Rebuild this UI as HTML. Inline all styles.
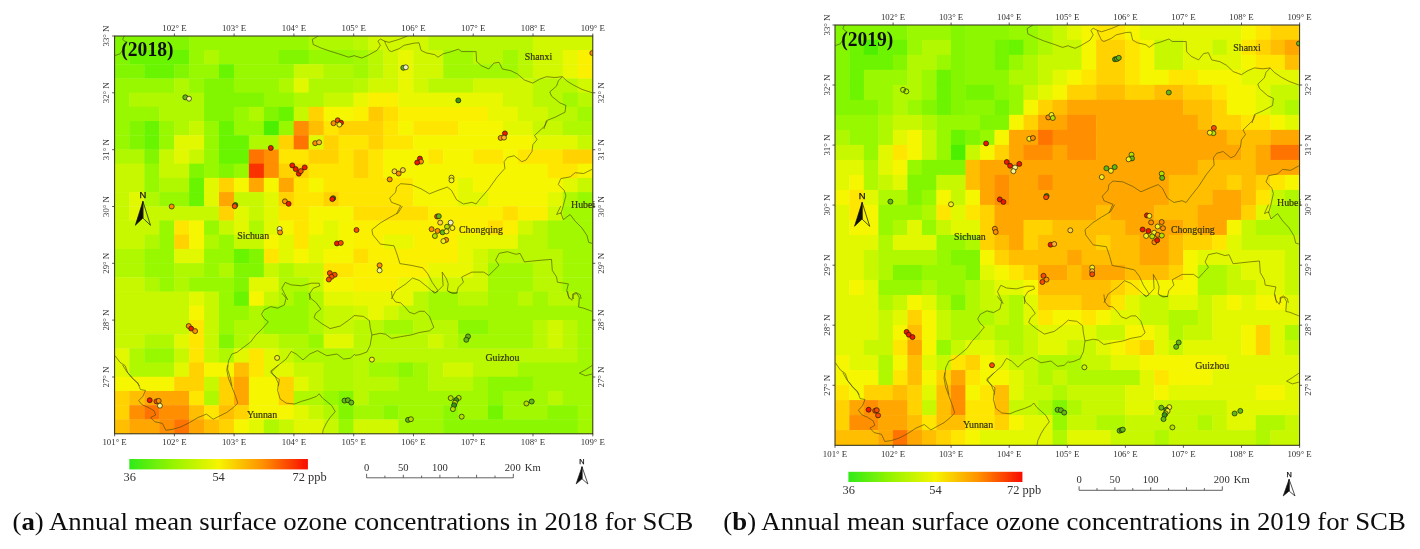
<!DOCTYPE html>
<html><head><meta charset="utf-8"><title>Figure</title><style>html,body{margin:0;padding:0;background:#fff}body{width:1420px;height:549px;overflow:hidden}svg{display:block}</style></head><body>
<svg width="1420" height="549" viewBox="0 0 1420 549" font-family="Liberation Serif, serif">
<defs><filter id="bl" x="-2%" y="-2%" width="104%" height="104%"><feGaussianBlur stdDeviation="0.45"/></filter>
<clipPath id="cl"><rect x="114.6" y="36.0" width="478.2" height="397.8"/></clipPath>
<clipPath id="cr"><rect x="835.0" y="25.0" width="464.6" height="420.3"/></clipPath></defs>
<rect width="1420" height="549" fill="#fff"/>
<g filter="url(#bl)">
<g clip-path="url(#cl)"><rect x="114.40" y="35.80" width="75.12" height="14.61" fill="#82f600"/>
<rect x="189.12" y="35.80" width="119.95" height="14.61" fill="#98f800"/>
<rect x="308.67" y="35.80" width="45.23" height="14.61" fill="#aff800"/>
<rect x="353.50" y="35.80" width="15.34" height="14.61" fill="#b9f800"/>
<rect x="368.44" y="35.80" width="60.17" height="14.61" fill="#d2f800"/>
<rect x="428.22" y="35.80" width="105.01" height="14.61" fill="#b9f800"/>
<rect x="532.82" y="35.80" width="60.17" height="14.61" fill="#d2f800"/>
<rect x="114.40" y="50.01" width="15.34" height="14.61" fill="#82f600"/>
<rect x="129.34" y="50.01" width="60.17" height="14.61" fill="#69f400"/>
<rect x="189.12" y="50.01" width="15.34" height="14.61" fill="#98f800"/>
<rect x="204.06" y="50.01" width="15.34" height="14.61" fill="#aff800"/>
<rect x="219.01" y="50.01" width="60.17" height="14.61" fill="#98f800"/>
<rect x="278.78" y="50.01" width="30.29" height="14.61" fill="#82f600"/>
<rect x="308.67" y="50.01" width="45.23" height="14.61" fill="#98f800"/>
<rect x="353.50" y="50.01" width="15.34" height="14.61" fill="#a1f800"/>
<rect x="368.44" y="50.01" width="15.34" height="14.61" fill="#b9f800"/>
<rect x="383.39" y="50.01" width="15.34" height="14.61" fill="#d2f800"/>
<rect x="398.33" y="50.01" width="15.34" height="14.61" fill="#e9f700"/>
<rect x="413.27" y="50.01" width="30.29" height="14.61" fill="#d2f800"/>
<rect x="443.16" y="50.01" width="30.29" height="14.61" fill="#a1f800"/>
<rect x="473.05" y="50.01" width="30.29" height="14.61" fill="#b9f800"/>
<rect x="502.94" y="50.01" width="15.34" height="14.61" fill="#a1f800"/>
<rect x="517.88" y="50.01" width="15.34" height="14.61" fill="#b9f800"/>
<rect x="532.82" y="50.01" width="30.29" height="14.61" fill="#d2f800"/>
<rect x="562.71" y="50.01" width="15.34" height="14.61" fill="#e9f700"/>
<rect x="577.66" y="50.01" width="15.34" height="14.61" fill="#faf000"/>
<rect x="114.40" y="64.21" width="30.29" height="14.61" fill="#82f600"/>
<rect x="144.29" y="64.21" width="30.29" height="14.61" fill="#69f400"/>
<rect x="174.18" y="64.21" width="15.34" height="14.61" fill="#82f600"/>
<rect x="189.12" y="64.21" width="30.29" height="14.61" fill="#98f800"/>
<rect x="219.01" y="64.21" width="15.34" height="14.61" fill="#69f400"/>
<rect x="233.95" y="64.21" width="60.17" height="14.61" fill="#98f800"/>
<rect x="293.72" y="64.21" width="30.29" height="14.61" fill="#c8f800"/>
<rect x="323.61" y="64.21" width="30.29" height="14.61" fill="#aff800"/>
<rect x="353.50" y="64.21" width="15.34" height="14.61" fill="#a1f800"/>
<rect x="368.44" y="64.21" width="15.34" height="14.61" fill="#b9f800"/>
<rect x="383.39" y="64.21" width="15.34" height="14.61" fill="#d2f800"/>
<rect x="398.33" y="64.21" width="15.34" height="14.61" fill="#e9f700"/>
<rect x="413.27" y="64.21" width="30.29" height="14.61" fill="#d2f800"/>
<rect x="443.16" y="64.21" width="75.12" height="14.61" fill="#a1f800"/>
<rect x="517.88" y="64.21" width="15.34" height="14.61" fill="#b9f800"/>
<rect x="532.82" y="64.21" width="30.29" height="14.61" fill="#d2f800"/>
<rect x="562.71" y="64.21" width="15.34" height="14.61" fill="#e9f700"/>
<rect x="577.66" y="64.21" width="15.34" height="14.61" fill="#faf000"/>
<rect x="114.40" y="78.42" width="60.17" height="14.61" fill="#98f800"/>
<rect x="174.18" y="78.42" width="15.34" height="14.61" fill="#aff800"/>
<rect x="189.12" y="78.42" width="15.34" height="14.61" fill="#98f800"/>
<rect x="204.06" y="78.42" width="30.29" height="14.61" fill="#82f600"/>
<rect x="233.95" y="78.42" width="45.23" height="14.61" fill="#98f800"/>
<rect x="278.78" y="78.42" width="15.34" height="14.61" fill="#aff800"/>
<rect x="293.72" y="78.42" width="15.34" height="14.61" fill="#e1f800"/>
<rect x="308.67" y="78.42" width="45.23" height="14.61" fill="#aff800"/>
<rect x="353.50" y="78.42" width="15.34" height="14.61" fill="#b9f800"/>
<rect x="368.44" y="78.42" width="30.29" height="14.61" fill="#d2f800"/>
<rect x="398.33" y="78.42" width="15.34" height="14.61" fill="#e9f700"/>
<rect x="413.27" y="78.42" width="15.34" height="14.61" fill="#d2f800"/>
<rect x="428.22" y="78.42" width="45.23" height="14.61" fill="#b9f800"/>
<rect x="473.05" y="78.42" width="60.17" height="14.61" fill="#d2f800"/>
<rect x="532.82" y="78.42" width="45.23" height="14.61" fill="#b9f800"/>
<rect x="577.66" y="78.42" width="15.34" height="14.61" fill="#d2f800"/>
<rect x="114.40" y="92.63" width="15.34" height="14.61" fill="#98f800"/>
<rect x="129.34" y="92.63" width="75.12" height="14.61" fill="#aff800"/>
<rect x="204.06" y="92.63" width="60.17" height="14.61" fill="#82f600"/>
<rect x="263.84" y="92.63" width="30.29" height="14.61" fill="#98f800"/>
<rect x="293.72" y="92.63" width="30.29" height="14.61" fill="#aff800"/>
<rect x="323.61" y="92.63" width="30.29" height="14.61" fill="#c8f800"/>
<rect x="353.50" y="92.63" width="15.34" height="14.61" fill="#e9f700"/>
<rect x="368.44" y="92.63" width="30.29" height="14.61" fill="#faf000"/>
<rect x="398.33" y="92.63" width="105.01" height="14.61" fill="#e9f700"/>
<rect x="502.94" y="92.63" width="30.29" height="14.61" fill="#d2f800"/>
<rect x="532.82" y="92.63" width="30.29" height="14.61" fill="#b9f800"/>
<rect x="562.71" y="92.63" width="15.34" height="14.61" fill="#a1f800"/>
<rect x="577.66" y="92.63" width="15.34" height="14.61" fill="#b9f800"/>
<rect x="114.40" y="106.84" width="45.23" height="14.61" fill="#98f800"/>
<rect x="159.23" y="106.84" width="45.23" height="14.61" fill="#aff800"/>
<rect x="204.06" y="106.84" width="30.29" height="14.61" fill="#82f600"/>
<rect x="233.95" y="106.84" width="15.34" height="14.61" fill="#98f800"/>
<rect x="248.89" y="106.84" width="15.34" height="14.61" fill="#aff800"/>
<rect x="263.84" y="106.84" width="15.34" height="14.61" fill="#82f600"/>
<rect x="278.78" y="106.84" width="15.34" height="14.61" fill="#69f400"/>
<rect x="293.72" y="106.84" width="15.34" height="14.61" fill="#c8f800"/>
<rect x="308.67" y="106.84" width="15.34" height="14.61" fill="#ffd200"/>
<rect x="323.61" y="106.84" width="30.29" height="14.61" fill="#f6f600"/>
<rect x="353.50" y="106.84" width="15.34" height="14.61" fill="#faf000"/>
<rect x="368.44" y="106.84" width="15.34" height="14.61" fill="#ffca00"/>
<rect x="383.39" y="106.84" width="15.34" height="14.61" fill="#ffde00"/>
<rect x="398.33" y="106.84" width="90.06" height="14.61" fill="#faf000"/>
<rect x="487.99" y="106.84" width="30.29" height="14.61" fill="#e9f700"/>
<rect x="517.88" y="106.84" width="30.29" height="14.61" fill="#d2f800"/>
<rect x="547.77" y="106.84" width="30.29" height="14.61" fill="#b9f800"/>
<rect x="577.66" y="106.84" width="15.34" height="14.61" fill="#a1f800"/>
<rect x="114.40" y="121.04" width="15.34" height="14.61" fill="#98f800"/>
<rect x="129.34" y="121.04" width="15.34" height="14.61" fill="#82f600"/>
<rect x="144.29" y="121.04" width="15.34" height="14.61" fill="#69f400"/>
<rect x="159.23" y="121.04" width="15.34" height="14.61" fill="#98f800"/>
<rect x="174.18" y="121.04" width="15.34" height="14.61" fill="#aff800"/>
<rect x="189.12" y="121.04" width="15.34" height="14.61" fill="#c8f800"/>
<rect x="204.06" y="121.04" width="15.34" height="14.61" fill="#98f800"/>
<rect x="219.01" y="121.04" width="15.34" height="14.61" fill="#69f400"/>
<rect x="233.95" y="121.04" width="30.29" height="14.61" fill="#98f800"/>
<rect x="263.84" y="121.04" width="15.34" height="14.61" fill="#4bf000"/>
<rect x="278.78" y="121.04" width="15.34" height="14.61" fill="#98f800"/>
<rect x="293.72" y="121.04" width="15.34" height="14.61" fill="#ff8e00"/>
<rect x="308.67" y="121.04" width="15.34" height="14.61" fill="#ffbe00"/>
<rect x="323.61" y="121.04" width="15.34" height="14.61" fill="#ffe600"/>
<rect x="338.56" y="121.04" width="45.23" height="14.61" fill="#ffd200"/>
<rect x="383.39" y="121.04" width="15.34" height="14.61" fill="#ffe600"/>
<rect x="398.33" y="121.04" width="15.34" height="14.61" fill="#f6f600"/>
<rect x="413.27" y="121.04" width="45.23" height="14.61" fill="#ffe600"/>
<rect x="458.11" y="121.04" width="45.23" height="14.61" fill="#f6f600"/>
<rect x="502.94" y="121.04" width="30.29" height="14.61" fill="#e1f800"/>
<rect x="532.82" y="121.04" width="30.29" height="14.61" fill="#c8f800"/>
<rect x="562.71" y="121.04" width="30.29" height="14.61" fill="#aff800"/>
<rect x="114.40" y="135.25" width="15.34" height="14.61" fill="#98f800"/>
<rect x="129.34" y="135.25" width="15.34" height="14.61" fill="#82f600"/>
<rect x="144.29" y="135.25" width="15.34" height="14.61" fill="#69f400"/>
<rect x="159.23" y="135.25" width="15.34" height="14.61" fill="#98f800"/>
<rect x="174.18" y="135.25" width="30.29" height="14.61" fill="#e1f800"/>
<rect x="204.06" y="135.25" width="15.34" height="14.61" fill="#98f800"/>
<rect x="219.01" y="135.25" width="30.29" height="14.61" fill="#69f400"/>
<rect x="248.89" y="135.25" width="30.29" height="14.61" fill="#aff800"/>
<rect x="278.78" y="135.25" width="15.34" height="14.61" fill="#ffd200"/>
<rect x="293.72" y="135.25" width="15.34" height="14.61" fill="#ff7300"/>
<rect x="308.67" y="135.25" width="15.34" height="14.61" fill="#e1f800"/>
<rect x="323.61" y="135.25" width="15.34" height="14.61" fill="#ffd200"/>
<rect x="338.56" y="135.25" width="30.29" height="14.61" fill="#ffe600"/>
<rect x="368.44" y="135.25" width="15.34" height="14.61" fill="#ffd200"/>
<rect x="383.39" y="135.25" width="30.29" height="14.61" fill="#ffe600"/>
<rect x="413.27" y="135.25" width="119.95" height="14.61" fill="#f6f600"/>
<rect x="532.82" y="135.25" width="45.23" height="14.61" fill="#e1f800"/>
<rect x="577.66" y="135.25" width="15.34" height="14.61" fill="#c8f800"/>
<rect x="114.40" y="149.46" width="30.29" height="14.61" fill="#aff800"/>
<rect x="144.29" y="149.46" width="15.34" height="14.61" fill="#82f600"/>
<rect x="159.23" y="149.46" width="15.34" height="14.61" fill="#c8f800"/>
<rect x="174.18" y="149.46" width="15.34" height="14.61" fill="#e1f800"/>
<rect x="189.12" y="149.46" width="15.34" height="14.61" fill="#c8f800"/>
<rect x="204.06" y="149.46" width="15.34" height="14.61" fill="#98f800"/>
<rect x="219.01" y="149.46" width="30.29" height="14.61" fill="#69f400"/>
<rect x="248.89" y="149.46" width="15.34" height="14.61" fill="#ff7300"/>
<rect x="263.84" y="149.46" width="15.34" height="14.61" fill="#ff8e00"/>
<rect x="278.78" y="149.46" width="30.29" height="14.61" fill="#ffe600"/>
<rect x="308.67" y="149.46" width="30.29" height="14.61" fill="#ffd200"/>
<rect x="338.56" y="149.46" width="15.34" height="14.61" fill="#ffe600"/>
<rect x="353.50" y="149.46" width="15.34" height="14.61" fill="#ffd200"/>
<rect x="368.44" y="149.46" width="15.34" height="14.61" fill="#ffe600"/>
<rect x="383.39" y="149.46" width="45.23" height="14.61" fill="#f6f600"/>
<rect x="428.22" y="149.46" width="15.34" height="14.61" fill="#ffe600"/>
<rect x="443.16" y="149.46" width="30.29" height="14.61" fill="#f6f600"/>
<rect x="473.05" y="149.46" width="30.29" height="14.61" fill="#ffe600"/>
<rect x="502.94" y="149.46" width="15.34" height="14.61" fill="#f6f600"/>
<rect x="517.88" y="149.46" width="45.23" height="14.61" fill="#ffe600"/>
<rect x="562.71" y="149.46" width="30.29" height="14.61" fill="#ffd200"/>
<rect x="114.40" y="163.66" width="30.29" height="14.61" fill="#c8f800"/>
<rect x="144.29" y="163.66" width="15.34" height="14.61" fill="#98f800"/>
<rect x="159.23" y="163.66" width="30.29" height="14.61" fill="#c8f800"/>
<rect x="189.12" y="163.66" width="15.34" height="14.61" fill="#82f600"/>
<rect x="204.06" y="163.66" width="15.34" height="14.61" fill="#98f800"/>
<rect x="219.01" y="163.66" width="15.34" height="14.61" fill="#82f600"/>
<rect x="233.95" y="163.66" width="15.34" height="14.61" fill="#98f800"/>
<rect x="248.89" y="163.66" width="15.34" height="14.61" fill="#fa3200"/>
<rect x="263.84" y="163.66" width="15.34" height="14.61" fill="#ff8e00"/>
<rect x="278.78" y="163.66" width="30.29" height="14.61" fill="#ffd200"/>
<rect x="308.67" y="163.66" width="45.23" height="14.61" fill="#ffe600"/>
<rect x="353.50" y="163.66" width="15.34" height="14.61" fill="#ffd200"/>
<rect x="368.44" y="163.66" width="15.34" height="14.61" fill="#ffe600"/>
<rect x="383.39" y="163.66" width="164.78" height="14.61" fill="#f6f600"/>
<rect x="547.77" y="163.66" width="30.29" height="14.61" fill="#ffe600"/>
<rect x="577.66" y="163.66" width="15.34" height="14.61" fill="#f6f600"/>
<rect x="114.40" y="177.87" width="30.29" height="14.61" fill="#c8f800"/>
<rect x="144.29" y="177.87" width="15.34" height="14.61" fill="#98f800"/>
<rect x="159.23" y="177.87" width="30.29" height="14.61" fill="#aff800"/>
<rect x="189.12" y="177.87" width="15.34" height="14.61" fill="#69f400"/>
<rect x="204.06" y="177.87" width="15.34" height="14.61" fill="#e1f800"/>
<rect x="219.01" y="177.87" width="15.34" height="14.61" fill="#ffd200"/>
<rect x="233.95" y="177.87" width="15.34" height="14.61" fill="#f6f600"/>
<rect x="248.89" y="177.87" width="15.34" height="14.61" fill="#ffa700"/>
<rect x="263.84" y="177.87" width="15.34" height="14.61" fill="#f6f600"/>
<rect x="278.78" y="177.87" width="15.34" height="14.61" fill="#ffa700"/>
<rect x="293.72" y="177.87" width="15.34" height="14.61" fill="#ffe600"/>
<rect x="308.67" y="177.87" width="15.34" height="14.61" fill="#f6f600"/>
<rect x="323.61" y="177.87" width="90.06" height="14.61" fill="#ffe600"/>
<rect x="413.27" y="177.87" width="45.23" height="14.61" fill="#f6f600"/>
<rect x="458.11" y="177.87" width="15.34" height="14.61" fill="#e1f800"/>
<rect x="473.05" y="177.87" width="90.06" height="14.61" fill="#f6f600"/>
<rect x="562.71" y="177.87" width="15.34" height="14.61" fill="#e1f800"/>
<rect x="577.66" y="177.87" width="15.34" height="14.61" fill="#c8f800"/>
<rect x="114.40" y="192.08" width="15.34" height="14.61" fill="#c8f800"/>
<rect x="129.34" y="192.08" width="15.34" height="14.61" fill="#e1f800"/>
<rect x="144.29" y="192.08" width="15.34" height="14.61" fill="#aff800"/>
<rect x="159.23" y="192.08" width="30.29" height="14.61" fill="#98f800"/>
<rect x="189.12" y="192.08" width="15.34" height="14.61" fill="#69f400"/>
<rect x="204.06" y="192.08" width="15.34" height="14.61" fill="#e1f800"/>
<rect x="219.01" y="192.08" width="15.34" height="14.61" fill="#ffa700"/>
<rect x="233.95" y="192.08" width="30.29" height="14.61" fill="#c8f800"/>
<rect x="263.84" y="192.08" width="15.34" height="14.61" fill="#e1f800"/>
<rect x="278.78" y="192.08" width="15.34" height="14.61" fill="#ffd200"/>
<rect x="293.72" y="192.08" width="30.29" height="14.61" fill="#ffe600"/>
<rect x="323.61" y="192.08" width="15.34" height="14.61" fill="#ffd200"/>
<rect x="338.56" y="192.08" width="75.12" height="14.61" fill="#ffe600"/>
<rect x="413.27" y="192.08" width="45.23" height="14.61" fill="#f6f600"/>
<rect x="458.11" y="192.08" width="30.29" height="14.61" fill="#e1f800"/>
<rect x="487.99" y="192.08" width="60.17" height="14.61" fill="#f6f600"/>
<rect x="547.77" y="192.08" width="15.34" height="14.61" fill="#e1f800"/>
<rect x="562.71" y="192.08" width="15.34" height="14.61" fill="#aff800"/>
<rect x="577.66" y="192.08" width="15.34" height="14.61" fill="#98f800"/>
<rect x="114.40" y="206.29" width="15.34" height="14.61" fill="#c8f800"/>
<rect x="129.34" y="206.29" width="15.34" height="14.61" fill="#e1f800"/>
<rect x="144.29" y="206.29" width="75.12" height="14.61" fill="#c8f800"/>
<rect x="219.01" y="206.29" width="15.34" height="14.61" fill="#ffd200"/>
<rect x="233.95" y="206.29" width="15.34" height="14.61" fill="#e1f800"/>
<rect x="248.89" y="206.29" width="15.34" height="14.61" fill="#c8f800"/>
<rect x="263.84" y="206.29" width="15.34" height="14.61" fill="#e1f800"/>
<rect x="278.78" y="206.29" width="30.29" height="14.61" fill="#ffe600"/>
<rect x="308.67" y="206.29" width="45.23" height="14.61" fill="#f6f600"/>
<rect x="353.50" y="206.29" width="75.12" height="14.61" fill="#ffde00"/>
<rect x="428.22" y="206.29" width="75.12" height="14.61" fill="#faf000"/>
<rect x="502.94" y="206.29" width="15.34" height="14.61" fill="#ffde00"/>
<rect x="517.88" y="206.29" width="30.29" height="14.61" fill="#faf000"/>
<rect x="547.77" y="206.29" width="15.34" height="14.61" fill="#d2f800"/>
<rect x="562.71" y="206.29" width="30.29" height="14.61" fill="#a1f800"/>
<rect x="114.40" y="220.49" width="45.23" height="14.61" fill="#c8f800"/>
<rect x="159.23" y="220.49" width="15.34" height="14.61" fill="#98f800"/>
<rect x="174.18" y="220.49" width="15.34" height="14.61" fill="#ffe600"/>
<rect x="189.12" y="220.49" width="15.34" height="14.61" fill="#f6f600"/>
<rect x="204.06" y="220.49" width="15.34" height="14.61" fill="#98f800"/>
<rect x="219.01" y="220.49" width="15.34" height="14.61" fill="#c8f800"/>
<rect x="233.95" y="220.49" width="15.34" height="14.61" fill="#e1f800"/>
<rect x="248.89" y="220.49" width="15.34" height="14.61" fill="#aff800"/>
<rect x="263.84" y="220.49" width="15.34" height="14.61" fill="#e1f800"/>
<rect x="278.78" y="220.49" width="15.34" height="14.61" fill="#f6f600"/>
<rect x="293.72" y="220.49" width="15.34" height="14.61" fill="#ffe600"/>
<rect x="308.67" y="220.49" width="15.34" height="14.61" fill="#f6f600"/>
<rect x="323.61" y="220.49" width="15.34" height="14.61" fill="#e1f800"/>
<rect x="338.56" y="220.49" width="15.34" height="14.61" fill="#f6f600"/>
<rect x="353.50" y="220.49" width="134.89" height="14.61" fill="#faf000"/>
<rect x="487.99" y="220.49" width="15.34" height="14.61" fill="#ffde00"/>
<rect x="502.94" y="220.49" width="15.34" height="14.61" fill="#faf000"/>
<rect x="517.88" y="220.49" width="15.34" height="14.61" fill="#d2f800"/>
<rect x="532.82" y="220.49" width="15.34" height="14.61" fill="#b9f800"/>
<rect x="547.77" y="220.49" width="45.23" height="14.61" fill="#a1f800"/>
<rect x="114.40" y="234.70" width="30.29" height="14.61" fill="#c8f800"/>
<rect x="144.29" y="234.70" width="15.34" height="14.61" fill="#aff800"/>
<rect x="159.23" y="234.70" width="15.34" height="14.61" fill="#98f800"/>
<rect x="174.18" y="234.70" width="15.34" height="14.61" fill="#ffd200"/>
<rect x="189.12" y="234.70" width="15.34" height="14.61" fill="#f6f600"/>
<rect x="204.06" y="234.70" width="15.34" height="14.61" fill="#aff800"/>
<rect x="219.01" y="234.70" width="15.34" height="14.61" fill="#98f800"/>
<rect x="233.95" y="234.70" width="30.29" height="14.61" fill="#c8f800"/>
<rect x="263.84" y="234.70" width="15.34" height="14.61" fill="#f6f600"/>
<rect x="278.78" y="234.70" width="15.34" height="14.61" fill="#e1f800"/>
<rect x="293.72" y="234.70" width="15.34" height="14.61" fill="#ffe600"/>
<rect x="308.67" y="234.70" width="30.29" height="14.61" fill="#e1f800"/>
<rect x="338.56" y="234.70" width="15.34" height="14.61" fill="#f6f600"/>
<rect x="353.50" y="234.70" width="30.29" height="14.61" fill="#faf000"/>
<rect x="383.39" y="234.70" width="30.29" height="14.61" fill="#e9f700"/>
<rect x="413.27" y="234.70" width="45.23" height="14.61" fill="#faf000"/>
<rect x="458.11" y="234.70" width="60.17" height="14.61" fill="#e9f700"/>
<rect x="517.88" y="234.70" width="30.29" height="14.61" fill="#b9f800"/>
<rect x="547.77" y="234.70" width="45.23" height="14.61" fill="#a1f800"/>
<rect x="114.40" y="248.91" width="30.29" height="14.61" fill="#aff800"/>
<rect x="144.29" y="248.91" width="30.29" height="14.61" fill="#98f800"/>
<rect x="174.18" y="248.91" width="30.29" height="14.61" fill="#e1f800"/>
<rect x="204.06" y="248.91" width="30.29" height="14.61" fill="#98f800"/>
<rect x="233.95" y="248.91" width="15.34" height="14.61" fill="#69f400"/>
<rect x="248.89" y="248.91" width="15.34" height="14.61" fill="#82f600"/>
<rect x="263.84" y="248.91" width="15.34" height="14.61" fill="#ffe600"/>
<rect x="278.78" y="248.91" width="15.34" height="14.61" fill="#e1f800"/>
<rect x="293.72" y="248.91" width="15.34" height="14.61" fill="#f6f600"/>
<rect x="308.67" y="248.91" width="15.34" height="14.61" fill="#e1f800"/>
<rect x="323.61" y="248.91" width="30.29" height="14.61" fill="#f6f600"/>
<rect x="353.50" y="248.91" width="15.34" height="14.61" fill="#ffde00"/>
<rect x="368.44" y="248.91" width="90.06" height="14.61" fill="#faf000"/>
<rect x="458.11" y="248.91" width="15.34" height="14.61" fill="#e9f700"/>
<rect x="473.05" y="248.91" width="15.34" height="14.61" fill="#d2f800"/>
<rect x="487.99" y="248.91" width="75.12" height="14.61" fill="#b9f800"/>
<rect x="562.71" y="248.91" width="30.29" height="14.61" fill="#a1f800"/>
<rect x="114.40" y="263.11" width="30.29" height="14.61" fill="#aff800"/>
<rect x="144.29" y="263.11" width="30.29" height="14.61" fill="#98f800"/>
<rect x="174.18" y="263.11" width="30.29" height="14.61" fill="#aff800"/>
<rect x="204.06" y="263.11" width="15.34" height="14.61" fill="#98f800"/>
<rect x="219.01" y="263.11" width="15.34" height="14.61" fill="#aff800"/>
<rect x="233.95" y="263.11" width="30.29" height="14.61" fill="#82f600"/>
<rect x="263.84" y="263.11" width="15.34" height="14.61" fill="#c8f800"/>
<rect x="278.78" y="263.11" width="15.34" height="14.61" fill="#aff800"/>
<rect x="293.72" y="263.11" width="30.29" height="14.61" fill="#c8f800"/>
<rect x="323.61" y="263.11" width="30.29" height="14.61" fill="#ffe600"/>
<rect x="353.50" y="263.11" width="75.12" height="14.61" fill="#faf000"/>
<rect x="428.22" y="263.11" width="45.23" height="14.61" fill="#e9f700"/>
<rect x="473.05" y="263.11" width="15.34" height="14.61" fill="#d2f800"/>
<rect x="487.99" y="263.11" width="45.23" height="14.61" fill="#a1f800"/>
<rect x="532.82" y="263.11" width="30.29" height="14.61" fill="#b9f800"/>
<rect x="562.71" y="263.11" width="30.29" height="14.61" fill="#a1f800"/>
<rect x="114.40" y="277.32" width="30.29" height="14.61" fill="#c8f800"/>
<rect x="144.29" y="277.32" width="15.34" height="14.61" fill="#aff800"/>
<rect x="159.23" y="277.32" width="15.34" height="14.61" fill="#98f800"/>
<rect x="174.18" y="277.32" width="15.34" height="14.61" fill="#aff800"/>
<rect x="189.12" y="277.32" width="45.23" height="14.61" fill="#98f800"/>
<rect x="233.95" y="277.32" width="15.34" height="14.61" fill="#82f600"/>
<rect x="248.89" y="277.32" width="30.29" height="14.61" fill="#e1f800"/>
<rect x="278.78" y="277.32" width="30.29" height="14.61" fill="#aff800"/>
<rect x="308.67" y="277.32" width="15.34" height="14.61" fill="#c8f800"/>
<rect x="323.61" y="277.32" width="30.29" height="14.61" fill="#f6f600"/>
<rect x="353.50" y="277.32" width="45.23" height="14.61" fill="#faf000"/>
<rect x="398.33" y="277.32" width="30.29" height="14.61" fill="#e9f700"/>
<rect x="428.22" y="277.32" width="60.17" height="14.61" fill="#d2f800"/>
<rect x="487.99" y="277.32" width="45.23" height="14.61" fill="#a1f800"/>
<rect x="532.82" y="277.32" width="30.29" height="14.61" fill="#b9f800"/>
<rect x="562.71" y="277.32" width="30.29" height="14.61" fill="#a1f800"/>
<rect x="114.40" y="291.53" width="75.12" height="14.61" fill="#c8f800"/>
<rect x="189.12" y="291.53" width="15.34" height="14.61" fill="#e1f800"/>
<rect x="204.06" y="291.53" width="15.34" height="14.61" fill="#c8f800"/>
<rect x="219.01" y="291.53" width="15.34" height="14.61" fill="#98f800"/>
<rect x="233.95" y="291.53" width="15.34" height="14.61" fill="#69f400"/>
<rect x="248.89" y="291.53" width="15.34" height="14.61" fill="#f6f600"/>
<rect x="263.84" y="291.53" width="15.34" height="14.61" fill="#c8f800"/>
<rect x="278.78" y="291.53" width="15.34" height="14.61" fill="#aff800"/>
<rect x="293.72" y="291.53" width="15.34" height="14.61" fill="#98f800"/>
<rect x="308.67" y="291.53" width="15.34" height="14.61" fill="#aff800"/>
<rect x="323.61" y="291.53" width="30.29" height="14.61" fill="#e1f800"/>
<rect x="353.50" y="291.53" width="60.17" height="14.61" fill="#e9f700"/>
<rect x="413.27" y="291.53" width="15.34" height="14.61" fill="#b9f800"/>
<rect x="428.22" y="291.53" width="30.29" height="14.61" fill="#a1f800"/>
<rect x="458.11" y="291.53" width="30.29" height="14.61" fill="#b9f800"/>
<rect x="487.99" y="291.53" width="30.29" height="14.61" fill="#a1f800"/>
<rect x="517.88" y="291.53" width="15.34" height="14.61" fill="#b9f800"/>
<rect x="532.82" y="291.53" width="15.34" height="14.61" fill="#a1f800"/>
<rect x="547.77" y="291.53" width="30.29" height="14.61" fill="#b9f800"/>
<rect x="577.66" y="291.53" width="15.34" height="14.61" fill="#a1f800"/>
<rect x="114.40" y="305.74" width="75.12" height="14.61" fill="#c8f800"/>
<rect x="189.12" y="305.74" width="15.34" height="14.61" fill="#f6f600"/>
<rect x="204.06" y="305.74" width="15.34" height="14.61" fill="#c8f800"/>
<rect x="219.01" y="305.74" width="30.29" height="14.61" fill="#98f800"/>
<rect x="248.89" y="305.74" width="15.34" height="14.61" fill="#aff800"/>
<rect x="263.84" y="305.74" width="45.23" height="14.61" fill="#98f800"/>
<rect x="308.67" y="305.74" width="15.34" height="14.61" fill="#aff800"/>
<rect x="323.61" y="305.74" width="30.29" height="14.61" fill="#c8f800"/>
<rect x="353.50" y="305.74" width="15.34" height="14.61" fill="#d2f800"/>
<rect x="368.44" y="305.74" width="15.34" height="14.61" fill="#e9f700"/>
<rect x="383.39" y="305.74" width="15.34" height="14.61" fill="#d2f800"/>
<rect x="398.33" y="305.74" width="30.29" height="14.61" fill="#b9f800"/>
<rect x="428.22" y="305.74" width="164.78" height="14.61" fill="#a1f800"/>
<rect x="114.40" y="319.94" width="75.12" height="14.61" fill="#c8f800"/>
<rect x="189.12" y="319.94" width="15.34" height="14.61" fill="#ffe600"/>
<rect x="204.06" y="319.94" width="15.34" height="14.61" fill="#c8f800"/>
<rect x="219.01" y="319.94" width="15.34" height="14.61" fill="#98f800"/>
<rect x="233.95" y="319.94" width="30.29" height="14.61" fill="#aff800"/>
<rect x="263.84" y="319.94" width="45.23" height="14.61" fill="#98f800"/>
<rect x="308.67" y="319.94" width="15.34" height="14.61" fill="#aff800"/>
<rect x="323.61" y="319.94" width="30.29" height="14.61" fill="#c8f800"/>
<rect x="353.50" y="319.94" width="30.29" height="14.61" fill="#b9f800"/>
<rect x="383.39" y="319.94" width="30.29" height="14.61" fill="#a1f800"/>
<rect x="413.27" y="319.94" width="45.23" height="14.61" fill="#b9f800"/>
<rect x="458.11" y="319.94" width="30.29" height="14.61" fill="#8bf700"/>
<rect x="487.99" y="319.94" width="45.23" height="14.61" fill="#a1f800"/>
<rect x="532.82" y="319.94" width="15.34" height="14.61" fill="#b9f800"/>
<rect x="547.77" y="319.94" width="15.34" height="14.61" fill="#d2f800"/>
<rect x="562.71" y="319.94" width="15.34" height="14.61" fill="#b9f800"/>
<rect x="577.66" y="319.94" width="15.34" height="14.61" fill="#a1f800"/>
<rect x="114.40" y="334.15" width="30.29" height="14.61" fill="#c8f800"/>
<rect x="144.29" y="334.15" width="30.29" height="14.61" fill="#aff800"/>
<rect x="174.18" y="334.15" width="15.34" height="14.61" fill="#e1f800"/>
<rect x="189.12" y="334.15" width="15.34" height="14.61" fill="#ffe600"/>
<rect x="204.06" y="334.15" width="15.34" height="14.61" fill="#c8f800"/>
<rect x="219.01" y="334.15" width="15.34" height="14.61" fill="#82f600"/>
<rect x="233.95" y="334.15" width="15.34" height="14.61" fill="#aff800"/>
<rect x="248.89" y="334.15" width="30.29" height="14.61" fill="#c8f800"/>
<rect x="278.78" y="334.15" width="30.29" height="14.61" fill="#aff800"/>
<rect x="308.67" y="334.15" width="15.34" height="14.61" fill="#98f800"/>
<rect x="323.61" y="334.15" width="30.29" height="14.61" fill="#e1f800"/>
<rect x="353.50" y="334.15" width="75.12" height="14.61" fill="#b9f800"/>
<rect x="428.22" y="334.15" width="15.34" height="14.61" fill="#d2f800"/>
<rect x="443.16" y="334.15" width="15.34" height="14.61" fill="#b9f800"/>
<rect x="458.11" y="334.15" width="75.12" height="14.61" fill="#a1f800"/>
<rect x="532.82" y="334.15" width="15.34" height="14.61" fill="#b9f800"/>
<rect x="547.77" y="334.15" width="15.34" height="14.61" fill="#d2f800"/>
<rect x="562.71" y="334.15" width="15.34" height="14.61" fill="#b9f800"/>
<rect x="577.66" y="334.15" width="15.34" height="14.61" fill="#a1f800"/>
<rect x="114.40" y="348.36" width="15.34" height="14.61" fill="#e1f800"/>
<rect x="129.34" y="348.36" width="15.34" height="14.61" fill="#aff800"/>
<rect x="144.29" y="348.36" width="30.29" height="14.61" fill="#98f800"/>
<rect x="174.18" y="348.36" width="15.34" height="14.61" fill="#c8f800"/>
<rect x="189.12" y="348.36" width="15.34" height="14.61" fill="#ffe600"/>
<rect x="204.06" y="348.36" width="15.34" height="14.61" fill="#c8f800"/>
<rect x="219.01" y="348.36" width="15.34" height="14.61" fill="#aff800"/>
<rect x="233.95" y="348.36" width="15.34" height="14.61" fill="#e1f800"/>
<rect x="248.89" y="348.36" width="15.34" height="14.61" fill="#ffe600"/>
<rect x="263.84" y="348.36" width="15.34" height="14.61" fill="#e1f800"/>
<rect x="278.78" y="348.36" width="15.34" height="14.61" fill="#c8f800"/>
<rect x="293.72" y="348.36" width="60.17" height="14.61" fill="#aff800"/>
<rect x="353.50" y="348.36" width="224.56" height="14.61" fill="#b9f800"/>
<rect x="577.66" y="348.36" width="15.34" height="14.61" fill="#a1f800"/>
<rect x="114.40" y="362.56" width="15.34" height="14.61" fill="#e1f800"/>
<rect x="129.34" y="362.56" width="45.23" height="14.61" fill="#aff800"/>
<rect x="174.18" y="362.56" width="15.34" height="14.61" fill="#e1f800"/>
<rect x="189.12" y="362.56" width="15.34" height="14.61" fill="#ffd200"/>
<rect x="204.06" y="362.56" width="30.29" height="14.61" fill="#f6f600"/>
<rect x="233.95" y="362.56" width="15.34" height="14.61" fill="#ffbe00"/>
<rect x="248.89" y="362.56" width="15.34" height="14.61" fill="#ffe600"/>
<rect x="263.84" y="362.56" width="30.29" height="14.61" fill="#e1f800"/>
<rect x="293.72" y="362.56" width="30.29" height="14.61" fill="#c8f800"/>
<rect x="323.61" y="362.56" width="30.29" height="14.61" fill="#aff800"/>
<rect x="353.50" y="362.56" width="15.34" height="14.61" fill="#b9f800"/>
<rect x="368.44" y="362.56" width="30.29" height="14.61" fill="#a1f800"/>
<rect x="398.33" y="362.56" width="15.34" height="14.61" fill="#8bf700"/>
<rect x="413.27" y="362.56" width="15.34" height="14.61" fill="#a1f800"/>
<rect x="428.22" y="362.56" width="15.34" height="14.61" fill="#b9f800"/>
<rect x="443.16" y="362.56" width="30.29" height="14.61" fill="#d2f800"/>
<rect x="473.05" y="362.56" width="45.23" height="14.61" fill="#b9f800"/>
<rect x="517.88" y="362.56" width="75.12" height="14.61" fill="#a1f800"/>
<rect x="114.40" y="376.77" width="60.17" height="14.61" fill="#f6f600"/>
<rect x="174.18" y="376.77" width="30.29" height="14.61" fill="#ffd200"/>
<rect x="204.06" y="376.77" width="15.34" height="14.61" fill="#c8f800"/>
<rect x="219.01" y="376.77" width="15.34" height="14.61" fill="#ffd200"/>
<rect x="233.95" y="376.77" width="15.34" height="14.61" fill="#ffa700"/>
<rect x="248.89" y="376.77" width="30.29" height="14.61" fill="#f6f600"/>
<rect x="278.78" y="376.77" width="15.34" height="14.61" fill="#ffd200"/>
<rect x="293.72" y="376.77" width="15.34" height="14.61" fill="#e1f800"/>
<rect x="308.67" y="376.77" width="15.34" height="14.61" fill="#c8f800"/>
<rect x="323.61" y="376.77" width="30.29" height="14.61" fill="#aff800"/>
<rect x="353.50" y="376.77" width="45.23" height="14.61" fill="#b9f800"/>
<rect x="398.33" y="376.77" width="30.29" height="14.61" fill="#a1f800"/>
<rect x="428.22" y="376.77" width="45.23" height="14.61" fill="#b9f800"/>
<rect x="473.05" y="376.77" width="15.34" height="14.61" fill="#a1f800"/>
<rect x="487.99" y="376.77" width="45.23" height="14.61" fill="#8bf700"/>
<rect x="532.82" y="376.77" width="60.17" height="14.61" fill="#a1f800"/>
<rect x="114.40" y="390.98" width="15.34" height="14.61" fill="#ffd200"/>
<rect x="129.34" y="390.98" width="15.34" height="14.61" fill="#ffbe00"/>
<rect x="144.29" y="390.98" width="45.23" height="14.61" fill="#ffa700"/>
<rect x="189.12" y="390.98" width="15.34" height="14.61" fill="#ffe600"/>
<rect x="204.06" y="390.98" width="15.34" height="14.61" fill="#aff800"/>
<rect x="219.01" y="390.98" width="15.34" height="14.61" fill="#ffd200"/>
<rect x="233.95" y="390.98" width="15.34" height="14.61" fill="#ffa700"/>
<rect x="248.89" y="390.98" width="30.29" height="14.61" fill="#f6f600"/>
<rect x="278.78" y="390.98" width="15.34" height="14.61" fill="#ffd200"/>
<rect x="293.72" y="390.98" width="30.29" height="14.61" fill="#aff800"/>
<rect x="323.61" y="390.98" width="15.34" height="14.61" fill="#98f800"/>
<rect x="338.56" y="390.98" width="15.34" height="14.61" fill="#82f600"/>
<rect x="353.50" y="390.98" width="15.34" height="14.61" fill="#b9f800"/>
<rect x="368.44" y="390.98" width="119.95" height="14.61" fill="#a1f800"/>
<rect x="487.99" y="390.98" width="15.34" height="14.61" fill="#8bf700"/>
<rect x="502.94" y="390.98" width="45.23" height="14.61" fill="#a1f800"/>
<rect x="547.77" y="390.98" width="15.34" height="14.61" fill="#b9f800"/>
<rect x="562.71" y="390.98" width="30.29" height="14.61" fill="#a1f800"/>
<rect x="114.40" y="405.19" width="15.34" height="14.61" fill="#ffd200"/>
<rect x="129.34" y="405.19" width="15.34" height="14.61" fill="#ff8e00"/>
<rect x="144.29" y="405.19" width="15.34" height="14.61" fill="#ff7300"/>
<rect x="159.23" y="405.19" width="30.29" height="14.61" fill="#ff8e00"/>
<rect x="189.12" y="405.19" width="15.34" height="14.61" fill="#ffbe00"/>
<rect x="204.06" y="405.19" width="15.34" height="14.61" fill="#ffe600"/>
<rect x="219.01" y="405.19" width="15.34" height="14.61" fill="#ffbe00"/>
<rect x="233.95" y="405.19" width="15.34" height="14.61" fill="#ffd200"/>
<rect x="248.89" y="405.19" width="45.23" height="14.61" fill="#f6f600"/>
<rect x="293.72" y="405.19" width="15.34" height="14.61" fill="#e1f800"/>
<rect x="308.67" y="405.19" width="15.34" height="14.61" fill="#c8f800"/>
<rect x="323.61" y="405.19" width="15.34" height="14.61" fill="#aff800"/>
<rect x="338.56" y="405.19" width="15.34" height="14.61" fill="#82f600"/>
<rect x="353.50" y="405.19" width="30.29" height="14.61" fill="#a1f800"/>
<rect x="383.39" y="405.19" width="15.34" height="14.61" fill="#8bf700"/>
<rect x="398.33" y="405.19" width="45.23" height="14.61" fill="#a1f800"/>
<rect x="443.16" y="405.19" width="15.34" height="14.61" fill="#8bf700"/>
<rect x="458.11" y="405.19" width="30.29" height="14.61" fill="#a1f800"/>
<rect x="487.99" y="405.19" width="15.34" height="14.61" fill="#73f500"/>
<rect x="502.94" y="405.19" width="45.23" height="14.61" fill="#a1f800"/>
<rect x="547.77" y="405.19" width="30.29" height="14.61" fill="#8bf700"/>
<rect x="577.66" y="405.19" width="15.34" height="14.61" fill="#a1f800"/>
<rect x="114.40" y="419.39" width="15.34" height="14.61" fill="#ffbe00"/>
<rect x="129.34" y="419.39" width="30.29" height="14.61" fill="#ffa700"/>
<rect x="159.23" y="419.39" width="15.34" height="14.61" fill="#ff8e00"/>
<rect x="174.18" y="419.39" width="15.34" height="14.61" fill="#ff7300"/>
<rect x="189.12" y="419.39" width="15.34" height="14.61" fill="#ffa700"/>
<rect x="204.06" y="419.39" width="15.34" height="14.61" fill="#ffbe00"/>
<rect x="219.01" y="419.39" width="15.34" height="14.61" fill="#ffd200"/>
<rect x="233.95" y="419.39" width="15.34" height="14.61" fill="#f6f600"/>
<rect x="248.89" y="419.39" width="15.34" height="14.61" fill="#e1f800"/>
<rect x="263.84" y="419.39" width="15.34" height="14.61" fill="#aff800"/>
<rect x="278.78" y="419.39" width="15.34" height="14.61" fill="#c8f800"/>
<rect x="293.72" y="419.39" width="30.29" height="14.61" fill="#e1f800"/>
<rect x="323.61" y="419.39" width="15.34" height="14.61" fill="#c8f800"/>
<rect x="338.56" y="419.39" width="15.34" height="14.61" fill="#98f800"/>
<rect x="353.50" y="419.39" width="45.23" height="14.61" fill="#d2f800"/>
<rect x="398.33" y="419.39" width="45.23" height="14.61" fill="#a1f800"/>
<rect x="443.16" y="419.39" width="134.89" height="14.61" fill="#8bf700"/>
<rect x="577.66" y="419.39" width="15.34" height="14.61" fill="#a1f800"/><g fill="none" stroke="#45450c" stroke-opacity="0.8" stroke-width="0.75" stroke-linejoin="round"><path d="M355.0 56.0L361.8 58.0L367.7 55.5L377.0 50.4L380.4 45.3L377.9 41.1L380.4 39.0L384.6 41.1L385.5 43.6L388.9 50.4L391.4 51.6L399.0 48.7L404.1 45.3L414.3 43.1L419.0 42.8L421.1 50.4L426.1 52.9L434.6 54.6L438.0 57.2L443.1 53.8L449.9 52.1L458.3 49.2L461.7 51.6L476.1 51.6L476.6 61.4L481.2 65.6L488.8 69.0L493.9 63.1L499.0 62.3L502.4 69.0L510.8 70.7L517.6 74.1L524.4 80.0L532.8 83.1L539.6 79.2L546.4 76.7L554.9 77.5L562.5 76.7L566.7 80.9L573.5 85.1L582.0 89.4L592.1 92.7"/><path d="M384.6 41.1L388.9 42.4L399.0 39.4L407.5 36.0"/><path d="M562.5 76.7L558.3 80.9L556.6 86.0L549.8 91.9L551.5 96.1L559.9 102.9L565.9 105.4L565.0 112.2L554.9 117.3L546.4 120.7L543.9 129.0"/><path d="M547.2 121.0L544.7 126.1L534.5 135.4L537.1 139.6L532.8 144.7L532.0 151.5L526.1 160.0L521.8 161.7L514.2 155.7L507.4 157.4L504.1 161.7L504.9 168.4L497.3 176.9L488.8 188.8L478.6 200.6L476.1 204.0L471.9 202.3L463.4 204.0L456.6 199.8L451.5 190.4L447.3 187.1L438.0 190.4L429.5 193.8L421.1 188.8L410.9 184.5L400.7 183.7L396.5 187.1L395.7 192.1L389.7 198.1L391.4 202.3L400.7 205.7L396.5 214.0"/><path d="M592.1 169.3L583.7 173.5L575.2 172.7L570.1 176.9L560.8 178.6L558.3 184.5L564.2 190.4L565.9 195.5L563.3 205.7L560.8 214.0"/><path d="M402.4 206.0L398.2 212.8L388.9 217.9L380.4 222.9L371.9 229.7L372.8 234.8L380.4 244.1L394.0 245.8L397.3 255.1L399.9 263.6L410.9 265.3L422.8 267.8L427.8 273.8L432.1 282.2L438.0 290.7L434.6 293.2L427.8 287.3L419.4 280.5L412.6 278.0L405.8 283.9L395.7 290.7L391.4 299.0"/><path d="M438.0 290.7L443.1 285.6L442.2 272.1L446.5 278.8L448.2 283.9L447.3 290.7L449.9 292.4L456.6 293.2L458.3 287.3L463.4 282.2L461.7 277.1L471.9 272.1L483.7 272.1L488.8 275.4L493.9 270.4L499.0 265.3L495.6 260.2L499.0 253.4L507.4 251.7L515.9 254.3L520.1 253.4L524.4 261.9L532.8 261.0L541.3 260.2L551.5 259.4L552.3 270.4L556.6 277.1L557.4 282.2L568.4 283.9L566.7 290.7L569.3 299.0"/><path d="M560.8 206.0L556.6 214.5L560.8 212.8L563.3 219.6L570.1 214.5L575.2 221.2L582.0 228.0L587.0 235.6L588.7 242.4L592.1 243.3"/><path d="M573.5 299.0L572.6 294.1L576.0 292.4L580.3 294.9L581.1 299.0"/><path d="M355.0 315.6L363.5 316.4L369.4 320.6L370.2 327.4L371.9 335.0L370.2 345.2L366.9 352.0L360.1 354.5L355.0 355.4"/><path d="M391.4 291.0L392.3 297.8L395.7 302.0L400.7 302.9L405.8 307.9L409.2 312.2L414.3 313.9L419.4 311.3L424.4 311.3L429.5 316.4L432.1 323.2L433.8 327.4L429.5 330.8L419.4 332.5L410.9 335.0L400.7 336.7L391.4 338.4L385.5 334.2L380.4 333.3L371.9 335.0"/><path d="M432.1 291.0L435.5 292.7L438.0 291.0"/><path d="M448.2 291.0L452.4 293.5L457.5 292.7"/><path d="M567.6 291.0L568.4 296.1L571.8 300.3L573.5 294.4L576.9 293.5L579.4 297.8L578.6 307.1L582.8 307.9L592.1 311.3"/><path d="M592.1 365.5L585.4 369.8L579.4 373.1L585.4 375.7L592.1 374.0"/><path d="M124.3 36.0L122.6 39.4L126.9 42.8L123.5 48.7L120.1 53.8L115.0 55.5"/><path d="M318.3 36.0L312.3 39.4L313.2 44.5L320.8 47.9L330.1 51.2L338.6 53.8L348.7 57.2L355.0 55.5"/><path d="M309.8 300.0L309.8 293.4L313.2 288.3L319.9 285.8L319.1 283.2L311.5 283.2L301.3 285.8L291.2 284.9L285.2 282.4L281.8 288.3L284.4 293.4L287.8 300.0"/><path d="M281.8 293.0L286.1 298.1L284.4 304.9L277.6 308.2L270.8 306.6L264.1 309.9L261.5 314.2L264.1 318.4L268.3 321.8L262.4 328.6L255.6 335.3L250.5 342.1L243.7 347.2L237.0 352.3L231.9 354.0L228.5 360.8L227.6 369.2L230.2 377.7L231.9 386.0"/><path d="M308.9 293.0L310.6 298.1L316.6 303.2L320.8 309.1L315.7 313.3L314.0 317.6L321.6 323.5L330.1 328.6L340.3 326.0L348.7 320.1L355.0 315.0"/><path d="M355.0 354.0L350.4 358.2L343.7 359.1L336.9 354.0L326.7 355.7L317.4 350.6L309.8 354.0L303.0 359.9L296.2 354.0L291.2 351.4L286.1 359.1L277.6 365.8L270.8 370.9L274.2 376.0L279.3 379.4L278.4 386.0"/><path d="M115.0 355.7L120.1 362.4L125.2 365.8L127.7 372.6L131.9 377.7L137.0 382.8L139.6 386.0"/><path d="M122.6 365.0L126.9 371.8L133.6 379.4L137.9 382.8L140.4 389.6L145.5 390.4L142.9 396.3L138.7 400.6L142.1 404.8L148.0 407.3L154.0 410.7L155.7 415.0L150.6 417.5L154.8 421.7L162.4 423.4L165.8 430.2L172.6 429.4L181.1 426.8L189.5 422.6L198.0 417.5L206.5 414.1L213.2 419.2L220.0 415.8L226.8 412.4L233.6 407.3L237.8 403.1L235.3 395.5L231.9 387.0L228.5 378.6L226.8 370.1L227.6 365.0"/><path d="M278.4 365.0L270.8 372.6L275.1 376.0L278.4 383.6L277.6 390.4L280.1 398.9L286.1 403.1L294.5 404.0L301.3 401.4L309.8 398.9L316.6 396.3L319.1 393.8L322.5 398.0L326.7 401.4L331.8 405.7L335.2 411.6L330.1 417.5L326.7 422.6L323.3 429.4L322.5 433.8"/></g><g stroke="#1a1a06" stroke-width="0.75" stroke-opacity="0.9"><circle cx="185.3" cy="97.3" r="2.5" fill="#5fb818"/><circle cx="189.0" cy="98.7" r="2.5" fill="#f4f490"/><circle cx="333.5" cy="123.2" r="2.5" fill="#ff8c00"/><circle cx="337.7" cy="120.3" r="2.5" fill="#fa4a00"/><circle cx="341.0" cy="122.7" r="2.5" fill="#f01800"/><circle cx="339.4" cy="124.6" r="2.5" fill="#f6f020"/><circle cx="270.8" cy="147.9" r="2.5" fill="#f01800"/><circle cx="315.2" cy="143.2" r="2.5" fill="#ff8c00"/><circle cx="319.1" cy="142.3" r="2.5" fill="#ffb030"/><circle cx="292.3" cy="165.4" r="2.5" fill="#f01800"/><circle cx="295.7" cy="169.1" r="2.5" fill="#f01800"/><circle cx="298.8" cy="173.7" r="2.5" fill="#f01800"/><circle cx="300.8" cy="171.1" r="2.5" fill="#fa4a00"/><circle cx="304.7" cy="167.4" r="2.5" fill="#f01800"/><circle cx="171.7" cy="206.5" r="2.5" fill="#ff8c00"/><circle cx="235.3" cy="205.0" r="2.5" fill="#3a9618"/><circle cx="234.7" cy="206.2" r="2.5" fill="#fa4a00"/><circle cx="284.9" cy="201.3" r="2.5" fill="#ff8c00"/><circle cx="288.6" cy="203.8" r="2.5" fill="#f01800"/><circle cx="333.2" cy="198.2" r="2.5" fill="#3a9618"/><circle cx="332.3" cy="199.1" r="2.5" fill="#f01800"/><circle cx="279.6" cy="229.0" r="2.5" fill="#f0f0c8"/><circle cx="280.1" cy="232.4" r="2.5" fill="#ff8c00"/><circle cx="336.9" cy="243.4" r="2.5" fill="#f01800"/><circle cx="340.8" cy="242.9" r="2.5" fill="#fa4a00"/><circle cx="356.5" cy="230.0" r="2.5" fill="#fa4a00"/><circle cx="329.8" cy="273.1" r="2.5" fill="#fa4a00"/><circle cx="334.7" cy="274.8" r="2.5" fill="#fa4a00"/><circle cx="331.5" cy="276.8" r="2.5" fill="#fa4a00"/><circle cx="328.8" cy="279.5" r="2.5" fill="#fa4a00"/><circle cx="188.7" cy="326.0" r="2.5" fill="#ff8c00"/><circle cx="191.2" cy="328.6" r="2.5" fill="#f01800"/><circle cx="195.1" cy="331.1" r="2.5" fill="#ff8c00"/><circle cx="277.1" cy="357.9" r="2.5" fill="#f6f020"/><circle cx="149.7" cy="400.2" r="2.5" fill="#f01800"/><circle cx="156.5" cy="401.4" r="2.5" fill="#fa4a00"/><circle cx="158.7" cy="400.9" r="2.5" fill="#ff8c00"/><circle cx="159.9" cy="405.7" r="2.5" fill="#f4f490"/><circle cx="344.5" cy="400.6" r="2.5" fill="#5fb818"/><circle cx="347.9" cy="400.2" r="2.5" fill="#5fb818"/><circle cx="351.3" cy="402.6" r="2.5" fill="#5fb818"/><circle cx="403.3" cy="67.8" r="2.5" fill="#5fb818"/><circle cx="405.8" cy="67.3" r="2.5" fill="#f0f0c8"/><circle cx="458.3" cy="100.4" r="2.5" fill="#3a9618"/><circle cx="592.3" cy="53.0" r="2.5" fill="#ff8c00"/><circle cx="504.9" cy="133.4" r="2.5" fill="#f01800"/><circle cx="500.7" cy="137.9" r="2.5" fill="#ff8c00"/><circle cx="504.0" cy="137.6" r="2.5" fill="#ffb030"/><circle cx="419.9" cy="158.6" r="2.5" fill="#f01800"/><circle cx="421.0" cy="161.6" r="2.5" fill="#ff8c00"/><circle cx="417.2" cy="162.5" r="2.5" fill="#f01800"/><circle cx="394.5" cy="171.3" r="2.5" fill="#ffd040"/><circle cx="398.7" cy="173.5" r="2.5" fill="#ff8c00"/><circle cx="402.9" cy="170.1" r="2.5" fill="#ffd040"/><circle cx="389.7" cy="179.4" r="2.5" fill="#ff8c00"/><circle cx="451.5" cy="177.7" r="2.5" fill="#f6f020"/><circle cx="451.5" cy="180.3" r="2.5" fill="#f6f020"/><circle cx="437.1" cy="216.5" r="2.5" fill="#fa4a00"/><circle cx="438.8" cy="216.2" r="2.5" fill="#5fb818"/><circle cx="440.2" cy="222.6" r="2.5" fill="#ffd040"/><circle cx="450.7" cy="222.6" r="2.5" fill="#f0f0c8"/><circle cx="447.0" cy="226.7" r="2.5" fill="#b4e000"/><circle cx="452.4" cy="228.0" r="2.5" fill="#f6f020"/><circle cx="431.6" cy="229.2" r="2.5" fill="#ff8c00"/><circle cx="437.5" cy="230.9" r="2.5" fill="#ff8c00"/><circle cx="442.6" cy="232.3" r="2.5" fill="#5fb818"/><circle cx="446.5" cy="231.4" r="2.5" fill="#f6f020"/><circle cx="434.9" cy="236.0" r="2.5" fill="#b4e000"/><circle cx="446.1" cy="239.9" r="2.5" fill="#ff8c00"/><circle cx="443.4" cy="241.1" r="2.5" fill="#f6f020"/><circle cx="379.6" cy="265.3" r="2.5" fill="#ff8c00"/><circle cx="379.6" cy="270.4" r="2.5" fill="#f4f490"/><circle cx="468.0" cy="336.4" r="2.5" fill="#5fb818"/><circle cx="466.3" cy="339.8" r="2.5" fill="#5fb818"/><circle cx="371.9" cy="359.6" r="2.5" fill="#f6f020"/><circle cx="408.0" cy="419.9" r="2.5" fill="#5fb818"/><circle cx="410.9" cy="419.2" r="2.5" fill="#b4e000"/><circle cx="450.7" cy="398.1" r="2.5" fill="#b4e000"/><circle cx="458.7" cy="397.9" r="2.5" fill="#b4e000"/><circle cx="456.1" cy="400.1" r="2.5" fill="#3a9618"/><circle cx="454.9" cy="402.7" r="2.5" fill="#b4e000"/><circle cx="454.1" cy="405.2" r="2.5" fill="#3a9618"/><circle cx="452.9" cy="409.1" r="2.5" fill="#b4e000"/><circle cx="461.7" cy="416.7" r="2.5" fill="#b4e000"/><circle cx="526.4" cy="403.5" r="2.5" fill="#b4e000"/><circle cx="531.7" cy="401.5" r="2.5" fill="#5fb818"/></g></g>
<rect x="114.6" y="36.0" width="478.2" height="397.8" fill="none" stroke="#2a2a10" stroke-width="1"/>
<g font-size="8.8" fill="#303030" stroke="#303030" stroke-width="0.8"><line x1="114.6" y1="433.8" x2="114.6" y2="436.3"/><text stroke="none" x="114.6" y="445.0" text-anchor="middle">101° E</text><line x1="174.4" y1="433.8" x2="174.4" y2="436.3"/><text stroke="none" x="174.4" y="445.0" text-anchor="middle">102° E</text><line x1="174.4" y1="36.0" x2="174.4" y2="33.5"/><text stroke="none" x="174.4" y="30.9" text-anchor="middle">102° E</text><line x1="234.1" y1="433.8" x2="234.1" y2="436.3"/><text stroke="none" x="234.1" y="445.0" text-anchor="middle">103° E</text><line x1="234.1" y1="36.0" x2="234.1" y2="33.5"/><text stroke="none" x="234.1" y="30.9" text-anchor="middle">103° E</text><line x1="293.9" y1="433.8" x2="293.9" y2="436.3"/><text stroke="none" x="293.9" y="445.0" text-anchor="middle">104° E</text><line x1="293.9" y1="36.0" x2="293.9" y2="33.5"/><text stroke="none" x="293.9" y="30.9" text-anchor="middle">104° E</text><line x1="353.7" y1="433.8" x2="353.7" y2="436.3"/><text stroke="none" x="353.7" y="445.0" text-anchor="middle">105° E</text><line x1="353.7" y1="36.0" x2="353.7" y2="33.5"/><text stroke="none" x="353.7" y="30.9" text-anchor="middle">105° E</text><line x1="413.5" y1="433.8" x2="413.5" y2="436.3"/><text stroke="none" x="413.5" y="445.0" text-anchor="middle">106° E</text><line x1="413.5" y1="36.0" x2="413.5" y2="33.5"/><text stroke="none" x="413.5" y="30.9" text-anchor="middle">106° E</text><line x1="473.2" y1="433.8" x2="473.2" y2="436.3"/><text stroke="none" x="473.2" y="445.0" text-anchor="middle">107° E</text><line x1="473.2" y1="36.0" x2="473.2" y2="33.5"/><text stroke="none" x="473.2" y="30.9" text-anchor="middle">107° E</text><line x1="533.0" y1="433.8" x2="533.0" y2="436.3"/><text stroke="none" x="533.0" y="445.0" text-anchor="middle">108° E</text><line x1="533.0" y1="36.0" x2="533.0" y2="33.5"/><text stroke="none" x="533.0" y="30.9" text-anchor="middle">108° E</text><line x1="592.8" y1="433.8" x2="592.8" y2="436.3"/><text stroke="none" x="592.8" y="445.0" text-anchor="middle">109° E</text><line x1="592.8" y1="36.0" x2="592.8" y2="33.5"/><text stroke="none" x="592.8" y="30.9" text-anchor="middle">109° E</text><line x1="114.6" y1="377.0" x2="112.1" y2="377.0"/><text stroke="none" transform="translate(109.2 377.0) rotate(-90)" text-anchor="middle">27° N</text><line x1="592.8" y1="377.0" x2="595.3" y2="377.0"/><text stroke="none" transform="translate(604.0 377.0) rotate(-90)" text-anchor="middle">27° N</text><line x1="114.6" y1="320.1" x2="112.1" y2="320.1"/><text stroke="none" transform="translate(109.2 320.1) rotate(-90)" text-anchor="middle">28° N</text><line x1="592.8" y1="320.1" x2="595.3" y2="320.1"/><text stroke="none" transform="translate(604.0 320.1) rotate(-90)" text-anchor="middle">28° N</text><line x1="114.6" y1="263.3" x2="112.1" y2="263.3"/><text stroke="none" transform="translate(109.2 263.3) rotate(-90)" text-anchor="middle">29° N</text><line x1="592.8" y1="263.3" x2="595.3" y2="263.3"/><text stroke="none" transform="translate(604.0 263.3) rotate(-90)" text-anchor="middle">29° N</text><line x1="114.6" y1="206.5" x2="112.1" y2="206.5"/><text stroke="none" transform="translate(109.2 206.5) rotate(-90)" text-anchor="middle">30° N</text><line x1="592.8" y1="206.5" x2="595.3" y2="206.5"/><text stroke="none" transform="translate(604.0 206.5) rotate(-90)" text-anchor="middle">30° N</text><line x1="114.6" y1="149.7" x2="112.1" y2="149.7"/><text stroke="none" transform="translate(109.2 149.7) rotate(-90)" text-anchor="middle">31° N</text><line x1="592.8" y1="149.7" x2="595.3" y2="149.7"/><text stroke="none" transform="translate(604.0 149.7) rotate(-90)" text-anchor="middle">31° N</text><line x1="114.6" y1="92.8" x2="112.1" y2="92.8"/><text stroke="none" transform="translate(109.2 92.8) rotate(-90)" text-anchor="middle">32° N</text><line x1="592.8" y1="92.8" x2="595.3" y2="92.8"/><text stroke="none" transform="translate(604.0 92.8) rotate(-90)" text-anchor="middle">32° N</text><line x1="114.6" y1="36.0" x2="112.1" y2="36.0"/><text stroke="none" transform="translate(109.2 36.0) rotate(-90)" text-anchor="middle">33° N</text></g>
<g fill="#33330c" stroke="#33330c" stroke-width="0.2"><text x="237.3" y="238.8" font-size="9.9" text-anchor="start" >Sichuan</text><text x="459.0" y="233.0" font-size="9.9" text-anchor="start" >Chongqing</text><text x="524.8" y="60.3" font-size="9.9" text-anchor="start" >Shanxi</text><text x="485.4" y="360.8" font-size="9.9" text-anchor="start" >Guizhou</text><text x="247.0" y="417.5" font-size="9.9" text-anchor="start" >Yunnan</text><text x="571.0" y="207.5" font-size="9.9" text-anchor="start" >Hubei</text></g>
<text transform="translate(121.3 55.9) scale(0.96 1)" font-size="20.4" font-weight="bold" fill="#111">(2018)</text>
<text x="142.9" y="198.1" font-size="9.4" text-anchor="middle" font-family="Liberation Sans, sans-serif" fill="#101010" stroke="#101010" stroke-width="0.25">N</text><path d="M142.9 201.3L135.3 225.3L142.9 218.1Z" fill="#0a0a0a" stroke="#0a0a0a" stroke-width="0.6"/><path d="M142.9 201.3L150.5 225.3L142.9 218.1Z" fill="none" stroke="#0a0a0a" stroke-width="0.7"/>
<defs><linearGradient id="gl" x1="0" x2="1" y1="0" y2="0"><stop offset="0" stop-color="#30ea18"/><stop offset="0.25" stop-color="#98f400"/><stop offset="0.5" stop-color="#f6f400"/><stop offset="0.75" stop-color="#ff9000"/><stop offset="1" stop-color="#f80c00"/></linearGradient></defs><rect x="129.3" y="459.0" width="178.6" height="10.4" fill="url(#gl)"/><g fill="#303030"><text x="123.5" y="481.0" font-size="12.4" text-anchor="start" >36</text><text x="218.6" y="481.0" font-size="12.4" text-anchor="middle" >54</text><text x="292.6" y="481.0" font-size="12.4" text-anchor="start" >72 ppb</text></g>
<g stroke="#505050" stroke-width="0.9" fill="none"><path d="M366.6 477.8L513.3 477.8"/><path d="M366.6 477.8L366.6 473.8"/><path d="M384.9 477.8L384.9 475.6"/><path d="M403.3 477.8L403.3 474.8"/><path d="M421.6 477.8L421.6 475.6"/><path d="M439.9 477.8L439.9 474.8"/><path d="M458.3 477.8L458.3 475.6"/><path d="M476.6 477.8L476.6 474.8"/><path d="M495.0 477.8L495.0 475.6"/><path d="M513.3 477.8L513.3 473.8"/></g><g font-size="10" fill="#303030"><text x="366.6" y="470.6" font-size="10.6" text-anchor="middle" >0</text><text x="403.3" y="470.6" font-size="10.6" text-anchor="middle" >50</text><text x="439.9" y="470.6" font-size="10.6" text-anchor="middle" >100</text><text x="504.8" y="470.6" font-size="10.6" text-anchor="start" word-spacing="1.5">200 Km</text></g>
<text x="582.0" y="463.9" font-size="7.3" text-anchor="middle" font-family="Liberation Sans, sans-serif" fill="#101010" stroke="#101010" stroke-width="0.25">N</text><path d="M582.0 466.7L576.1 484.0L582.0 478.8Z" fill="#0a0a0a" stroke="#0a0a0a" stroke-width="0.6"/><path d="M582.0 466.7L587.9 484.0L582.0 478.8Z" fill="none" stroke="#0a0a0a" stroke-width="0.7"/>
<g clip-path="url(#cr)"><rect x="834.80" y="24.80" width="72.99" height="15.41" fill="#84f600"/>
<rect x="907.39" y="24.80" width="43.96" height="15.41" fill="#9af800"/>
<rect x="950.95" y="24.80" width="14.92" height="15.41" fill="#84f600"/>
<rect x="965.47" y="24.80" width="43.96" height="15.41" fill="#8df700"/>
<rect x="1009.02" y="24.80" width="29.44" height="15.41" fill="#98f800"/>
<rect x="1038.06" y="24.80" width="14.92" height="15.41" fill="#aff800"/>
<rect x="1052.58" y="24.80" width="14.92" height="15.41" fill="#c8f800"/>
<rect x="1067.10" y="24.80" width="14.92" height="15.41" fill="#e1f800"/>
<rect x="1081.62" y="24.80" width="14.92" height="15.41" fill="#f6f600"/>
<rect x="1096.14" y="24.80" width="29.44" height="15.41" fill="#ffe600"/>
<rect x="1125.17" y="24.80" width="14.92" height="15.41" fill="#f6f600"/>
<rect x="1139.69" y="24.80" width="102.03" height="15.41" fill="#e1f800"/>
<rect x="1241.32" y="24.80" width="14.92" height="15.41" fill="#f6f600"/>
<rect x="1255.84" y="24.80" width="14.92" height="15.41" fill="#ffe600"/>
<rect x="1270.36" y="24.80" width="29.44" height="15.41" fill="#ffd200"/>
<rect x="834.80" y="39.81" width="14.92" height="15.41" fill="#84f600"/>
<rect x="849.32" y="39.81" width="14.92" height="15.41" fill="#6cf400"/>
<rect x="863.84" y="39.81" width="14.92" height="15.41" fill="#4ef000"/>
<rect x="878.36" y="39.81" width="29.44" height="15.41" fill="#6cf400"/>
<rect x="907.39" y="39.81" width="14.92" height="15.41" fill="#9af800"/>
<rect x="921.91" y="39.81" width="29.44" height="15.41" fill="#b2f800"/>
<rect x="950.95" y="39.81" width="14.92" height="15.41" fill="#84f600"/>
<rect x="965.47" y="39.81" width="29.44" height="15.41" fill="#8df700"/>
<rect x="994.51" y="39.81" width="14.92" height="15.41" fill="#76f500"/>
<rect x="1009.02" y="39.81" width="14.92" height="15.41" fill="#69f400"/>
<rect x="1023.54" y="39.81" width="14.92" height="15.41" fill="#98f800"/>
<rect x="1038.06" y="39.81" width="14.92" height="15.41" fill="#aff800"/>
<rect x="1052.58" y="39.81" width="29.44" height="15.41" fill="#c8f800"/>
<rect x="1081.62" y="39.81" width="14.92" height="15.41" fill="#f6f600"/>
<rect x="1096.14" y="39.81" width="29.44" height="15.41" fill="#ffd200"/>
<rect x="1125.17" y="39.81" width="14.92" height="15.41" fill="#ffe600"/>
<rect x="1139.69" y="39.81" width="14.92" height="15.41" fill="#f6f600"/>
<rect x="1154.21" y="39.81" width="29.44" height="15.41" fill="#c8f800"/>
<rect x="1183.25" y="39.81" width="29.44" height="15.41" fill="#e1f800"/>
<rect x="1212.29" y="39.81" width="14.92" height="15.41" fill="#c8f800"/>
<rect x="1226.81" y="39.81" width="14.92" height="15.41" fill="#e1f800"/>
<rect x="1241.32" y="39.81" width="14.92" height="15.41" fill="#ffe600"/>
<rect x="1255.84" y="39.81" width="14.92" height="15.41" fill="#ffd200"/>
<rect x="1270.36" y="39.81" width="14.92" height="15.41" fill="#ffbe00"/>
<rect x="1284.88" y="39.81" width="14.92" height="15.41" fill="#ffa700"/>
<rect x="834.80" y="54.82" width="14.92" height="15.41" fill="#84f600"/>
<rect x="849.32" y="54.82" width="43.96" height="15.41" fill="#6cf400"/>
<rect x="892.88" y="54.82" width="14.92" height="15.41" fill="#84f600"/>
<rect x="907.39" y="54.82" width="29.44" height="15.41" fill="#b2f800"/>
<rect x="936.43" y="54.82" width="14.92" height="15.41" fill="#9af800"/>
<rect x="950.95" y="54.82" width="14.92" height="15.41" fill="#84f600"/>
<rect x="965.47" y="54.82" width="29.44" height="15.41" fill="#8df700"/>
<rect x="994.51" y="54.82" width="14.92" height="15.41" fill="#76f500"/>
<rect x="1009.02" y="54.82" width="14.92" height="15.41" fill="#98f800"/>
<rect x="1023.54" y="54.82" width="14.92" height="15.41" fill="#aff800"/>
<rect x="1038.06" y="54.82" width="43.96" height="15.41" fill="#c8f800"/>
<rect x="1081.62" y="54.82" width="14.92" height="15.41" fill="#f6f600"/>
<rect x="1096.14" y="54.82" width="29.44" height="15.41" fill="#ffd200"/>
<rect x="1125.17" y="54.82" width="14.92" height="15.41" fill="#ffe600"/>
<rect x="1139.69" y="54.82" width="14.92" height="15.41" fill="#f6f600"/>
<rect x="1154.21" y="54.82" width="29.44" height="15.41" fill="#c8f800"/>
<rect x="1183.25" y="54.82" width="58.47" height="15.41" fill="#e1f800"/>
<rect x="1241.32" y="54.82" width="14.92" height="15.41" fill="#f6f600"/>
<rect x="1255.84" y="54.82" width="29.44" height="15.41" fill="#ffe600"/>
<rect x="1284.88" y="54.82" width="14.92" height="15.41" fill="#ffbe00"/>
<rect x="834.80" y="69.83" width="14.92" height="15.41" fill="#84f600"/>
<rect x="849.32" y="69.83" width="14.92" height="15.41" fill="#6cf400"/>
<rect x="863.84" y="69.83" width="43.96" height="15.41" fill="#9af800"/>
<rect x="907.39" y="69.83" width="14.92" height="15.41" fill="#b2f800"/>
<rect x="921.91" y="69.83" width="14.92" height="15.41" fill="#9af800"/>
<rect x="936.43" y="69.83" width="14.92" height="15.41" fill="#6cf400"/>
<rect x="950.95" y="69.83" width="14.92" height="15.41" fill="#84f600"/>
<rect x="965.47" y="69.83" width="43.96" height="15.41" fill="#8df700"/>
<rect x="1009.02" y="69.83" width="29.44" height="15.41" fill="#aff800"/>
<rect x="1038.06" y="69.83" width="14.92" height="15.41" fill="#c8f800"/>
<rect x="1052.58" y="69.83" width="14.92" height="15.41" fill="#e1f800"/>
<rect x="1067.10" y="69.83" width="14.92" height="15.41" fill="#f6f600"/>
<rect x="1081.62" y="69.83" width="14.92" height="15.41" fill="#ffe600"/>
<rect x="1096.14" y="69.83" width="29.44" height="15.41" fill="#ffd200"/>
<rect x="1125.17" y="69.83" width="14.92" height="15.41" fill="#ffe600"/>
<rect x="1139.69" y="69.83" width="29.44" height="15.41" fill="#f6f600"/>
<rect x="1168.73" y="69.83" width="29.44" height="15.41" fill="#ffe600"/>
<rect x="1197.77" y="69.83" width="43.96" height="15.41" fill="#f6f600"/>
<rect x="1241.32" y="69.83" width="58.47" height="15.41" fill="#e1f800"/>
<rect x="834.80" y="84.84" width="14.92" height="15.41" fill="#84f600"/>
<rect x="849.32" y="84.84" width="14.92" height="15.41" fill="#6cf400"/>
<rect x="863.84" y="84.84" width="29.44" height="15.41" fill="#9af800"/>
<rect x="892.88" y="84.84" width="29.44" height="15.41" fill="#b2f800"/>
<rect x="921.91" y="84.84" width="14.92" height="15.41" fill="#9af800"/>
<rect x="936.43" y="84.84" width="14.92" height="15.41" fill="#6cf400"/>
<rect x="950.95" y="84.84" width="14.92" height="15.41" fill="#84f600"/>
<rect x="965.47" y="84.84" width="29.44" height="15.41" fill="#76f500"/>
<rect x="994.51" y="84.84" width="14.92" height="15.41" fill="#8df700"/>
<rect x="1009.02" y="84.84" width="14.92" height="15.41" fill="#98f800"/>
<rect x="1023.54" y="84.84" width="14.92" height="15.41" fill="#c8f800"/>
<rect x="1038.06" y="84.84" width="14.92" height="15.41" fill="#e1f800"/>
<rect x="1052.58" y="84.84" width="14.92" height="15.41" fill="#f6f600"/>
<rect x="1067.10" y="84.84" width="29.44" height="15.41" fill="#ffd200"/>
<rect x="1096.14" y="84.84" width="29.44" height="15.41" fill="#ffbe00"/>
<rect x="1125.17" y="84.84" width="29.44" height="15.41" fill="#ffd200"/>
<rect x="1154.21" y="84.84" width="29.44" height="15.41" fill="#ffbe00"/>
<rect x="1183.25" y="84.84" width="29.44" height="15.41" fill="#ffd200"/>
<rect x="1212.29" y="84.84" width="14.92" height="15.41" fill="#ffe600"/>
<rect x="1226.81" y="84.84" width="29.44" height="15.41" fill="#f6f600"/>
<rect x="1255.84" y="84.84" width="14.92" height="15.41" fill="#e1f800"/>
<rect x="1270.36" y="84.84" width="29.44" height="15.41" fill="#c8f800"/>
<rect x="834.80" y="99.85" width="43.96" height="15.41" fill="#84f600"/>
<rect x="878.36" y="99.85" width="14.92" height="15.41" fill="#9af800"/>
<rect x="892.88" y="99.85" width="14.92" height="15.41" fill="#b2f800"/>
<rect x="907.39" y="99.85" width="14.92" height="15.41" fill="#9af800"/>
<rect x="921.91" y="99.85" width="14.92" height="15.41" fill="#84f600"/>
<rect x="936.43" y="99.85" width="14.92" height="15.41" fill="#6cf400"/>
<rect x="950.95" y="99.85" width="14.92" height="15.41" fill="#84f600"/>
<rect x="965.47" y="99.85" width="29.44" height="15.41" fill="#8df700"/>
<rect x="994.51" y="99.85" width="14.92" height="15.41" fill="#76f500"/>
<rect x="1009.02" y="99.85" width="14.92" height="15.41" fill="#98f800"/>
<rect x="1023.54" y="99.85" width="14.92" height="15.41" fill="#f6f600"/>
<rect x="1038.06" y="99.85" width="14.92" height="15.41" fill="#ffd200"/>
<rect x="1052.58" y="99.85" width="14.92" height="15.41" fill="#ffbe00"/>
<rect x="1067.10" y="99.85" width="116.55" height="15.41" fill="#ffa700"/>
<rect x="1183.25" y="99.85" width="29.44" height="15.41" fill="#ffbe00"/>
<rect x="1212.29" y="99.85" width="14.92" height="15.41" fill="#ffd200"/>
<rect x="1226.81" y="99.85" width="29.44" height="15.41" fill="#f6f600"/>
<rect x="1255.84" y="99.85" width="14.92" height="15.41" fill="#e1f800"/>
<rect x="1270.36" y="99.85" width="14.92" height="15.41" fill="#c8f800"/>
<rect x="1284.88" y="99.85" width="14.92" height="15.41" fill="#aff800"/>
<rect x="834.80" y="114.86" width="43.96" height="15.41" fill="#98f800"/>
<rect x="878.36" y="114.86" width="14.92" height="15.41" fill="#aff800"/>
<rect x="892.88" y="114.86" width="29.44" height="15.41" fill="#c8f800"/>
<rect x="921.91" y="114.86" width="14.92" height="15.41" fill="#aff800"/>
<rect x="936.43" y="114.86" width="43.96" height="15.41" fill="#98f800"/>
<rect x="979.99" y="114.86" width="29.44" height="15.41" fill="#82f600"/>
<rect x="1009.02" y="114.86" width="14.92" height="15.41" fill="#f6f600"/>
<rect x="1023.54" y="114.86" width="14.92" height="15.41" fill="#ffd200"/>
<rect x="1038.06" y="114.86" width="29.44" height="15.41" fill="#ffa700"/>
<rect x="1067.10" y="114.86" width="29.44" height="15.41" fill="#ff8e00"/>
<rect x="1096.14" y="114.86" width="102.03" height="15.41" fill="#ffa700"/>
<rect x="1197.77" y="114.86" width="14.92" height="15.41" fill="#ffbe00"/>
<rect x="1212.29" y="114.86" width="29.44" height="15.41" fill="#ffd200"/>
<rect x="1241.32" y="114.86" width="29.44" height="15.41" fill="#ffe600"/>
<rect x="1270.36" y="114.86" width="14.92" height="15.41" fill="#f6f600"/>
<rect x="1284.88" y="114.86" width="14.92" height="15.41" fill="#e1f800"/>
<rect x="834.80" y="129.88" width="14.92" height="15.41" fill="#aff800"/>
<rect x="849.32" y="129.88" width="29.44" height="15.41" fill="#98f800"/>
<rect x="878.36" y="129.88" width="14.92" height="15.41" fill="#aff800"/>
<rect x="892.88" y="129.88" width="14.92" height="15.41" fill="#e1f800"/>
<rect x="907.39" y="129.88" width="14.92" height="15.41" fill="#f6f600"/>
<rect x="921.91" y="129.88" width="14.92" height="15.41" fill="#c8f800"/>
<rect x="936.43" y="129.88" width="14.92" height="15.41" fill="#98f800"/>
<rect x="950.95" y="129.88" width="14.92" height="15.41" fill="#69f400"/>
<rect x="965.47" y="129.88" width="14.92" height="15.41" fill="#82f600"/>
<rect x="979.99" y="129.88" width="14.92" height="15.41" fill="#98f800"/>
<rect x="994.51" y="129.88" width="14.92" height="15.41" fill="#f6f600"/>
<rect x="1009.02" y="129.88" width="29.44" height="15.41" fill="#ffa700"/>
<rect x="1038.06" y="129.88" width="14.92" height="15.41" fill="#ff7300"/>
<rect x="1052.58" y="129.88" width="43.96" height="15.41" fill="#ff8e00"/>
<rect x="1096.14" y="129.88" width="131.07" height="15.41" fill="#ffa700"/>
<rect x="1226.81" y="129.88" width="43.96" height="15.41" fill="#ffbe00"/>
<rect x="1270.36" y="129.88" width="29.44" height="15.41" fill="#ffa700"/>
<rect x="834.80" y="144.89" width="29.44" height="15.41" fill="#c8f800"/>
<rect x="863.84" y="144.89" width="14.92" height="15.41" fill="#98f800"/>
<rect x="878.36" y="144.89" width="14.92" height="15.41" fill="#e1f800"/>
<rect x="892.88" y="144.89" width="14.92" height="15.41" fill="#ffe600"/>
<rect x="907.39" y="144.89" width="14.92" height="15.41" fill="#f6f600"/>
<rect x="921.91" y="144.89" width="14.92" height="15.41" fill="#c8f800"/>
<rect x="936.43" y="144.89" width="14.92" height="15.41" fill="#98f800"/>
<rect x="950.95" y="144.89" width="14.92" height="15.41" fill="#4bf000"/>
<rect x="965.47" y="144.89" width="14.92" height="15.41" fill="#c8f800"/>
<rect x="979.99" y="144.89" width="14.92" height="15.41" fill="#f6f600"/>
<rect x="994.51" y="144.89" width="14.92" height="15.41" fill="#ffd200"/>
<rect x="1009.02" y="144.89" width="14.92" height="15.41" fill="#ffa700"/>
<rect x="1023.54" y="144.89" width="29.44" height="15.41" fill="#ff8e00"/>
<rect x="1052.58" y="144.89" width="14.92" height="15.41" fill="#ffa700"/>
<rect x="1067.10" y="144.89" width="29.44" height="15.41" fill="#ff8e00"/>
<rect x="1096.14" y="144.89" width="145.59" height="15.41" fill="#ffa700"/>
<rect x="1241.32" y="144.89" width="14.92" height="15.41" fill="#ffbe00"/>
<rect x="1255.84" y="144.89" width="14.92" height="15.41" fill="#ffa700"/>
<rect x="1270.36" y="144.89" width="29.44" height="15.41" fill="#ff7300"/>
<rect x="834.80" y="159.90" width="29.44" height="15.41" fill="#e1f800"/>
<rect x="863.84" y="159.90" width="14.92" height="15.41" fill="#aff800"/>
<rect x="878.36" y="159.90" width="14.92" height="15.41" fill="#e1f800"/>
<rect x="892.88" y="159.90" width="14.92" height="15.41" fill="#f6f600"/>
<rect x="907.39" y="159.90" width="14.92" height="15.41" fill="#98f800"/>
<rect x="921.91" y="159.90" width="43.96" height="15.41" fill="#82f600"/>
<rect x="965.47" y="159.90" width="14.92" height="15.41" fill="#ffbe00"/>
<rect x="979.99" y="159.90" width="218.18" height="15.41" fill="#ffa700"/>
<rect x="1197.77" y="159.90" width="58.47" height="15.41" fill="#ffbe00"/>
<rect x="1255.84" y="159.90" width="43.96" height="15.41" fill="#ffa700"/>
<rect x="834.80" y="174.91" width="14.92" height="15.41" fill="#e1f800"/>
<rect x="849.32" y="174.91" width="14.92" height="15.41" fill="#f6f600"/>
<rect x="863.84" y="174.91" width="14.92" height="15.41" fill="#aff800"/>
<rect x="878.36" y="174.91" width="14.92" height="15.41" fill="#c8f800"/>
<rect x="892.88" y="174.91" width="14.92" height="15.41" fill="#e1f800"/>
<rect x="907.39" y="174.91" width="29.44" height="15.41" fill="#82f600"/>
<rect x="936.43" y="174.91" width="29.44" height="15.41" fill="#c8f800"/>
<rect x="965.47" y="174.91" width="14.92" height="15.41" fill="#ffbe00"/>
<rect x="979.99" y="174.91" width="14.92" height="15.41" fill="#ffa700"/>
<rect x="994.51" y="174.91" width="14.92" height="15.41" fill="#ff8e00"/>
<rect x="1009.02" y="174.91" width="29.44" height="15.41" fill="#ffa700"/>
<rect x="1038.06" y="174.91" width="14.92" height="15.41" fill="#ff8e00"/>
<rect x="1052.58" y="174.91" width="116.55" height="15.41" fill="#ffa700"/>
<rect x="1168.73" y="174.91" width="58.47" height="15.41" fill="#ffbe00"/>
<rect x="1226.81" y="174.91" width="14.92" height="15.41" fill="#ffd200"/>
<rect x="1241.32" y="174.91" width="14.92" height="15.41" fill="#ffbe00"/>
<rect x="1255.84" y="174.91" width="14.92" height="15.41" fill="#ffd200"/>
<rect x="1270.36" y="174.91" width="14.92" height="15.41" fill="#ffe600"/>
<rect x="1284.88" y="174.91" width="14.92" height="15.41" fill="#f6f600"/>
<rect x="834.80" y="189.92" width="14.92" height="15.41" fill="#f6f600"/>
<rect x="849.32" y="189.92" width="14.92" height="15.41" fill="#ffe600"/>
<rect x="863.84" y="189.92" width="14.92" height="15.41" fill="#e1f800"/>
<rect x="878.36" y="189.92" width="29.44" height="15.41" fill="#aff800"/>
<rect x="907.39" y="189.92" width="14.92" height="15.41" fill="#82f600"/>
<rect x="921.91" y="189.92" width="14.92" height="15.41" fill="#98f800"/>
<rect x="936.43" y="189.92" width="14.92" height="15.41" fill="#f6f600"/>
<rect x="950.95" y="189.92" width="14.92" height="15.41" fill="#c8f800"/>
<rect x="965.47" y="189.92" width="14.92" height="15.41" fill="#f6f600"/>
<rect x="979.99" y="189.92" width="14.92" height="15.41" fill="#ffa700"/>
<rect x="994.51" y="189.92" width="14.92" height="15.41" fill="#ff8e00"/>
<rect x="1009.02" y="189.92" width="160.11" height="15.41" fill="#ffa700"/>
<rect x="1168.73" y="189.92" width="43.96" height="15.41" fill="#ffbe00"/>
<rect x="1212.29" y="189.92" width="29.44" height="15.41" fill="#ffa700"/>
<rect x="1241.32" y="189.92" width="14.92" height="15.41" fill="#ffbe00"/>
<rect x="1255.84" y="189.92" width="14.92" height="15.41" fill="#ffe600"/>
<rect x="1270.36" y="189.92" width="14.92" height="15.41" fill="#c8f800"/>
<rect x="1284.88" y="189.92" width="14.92" height="15.41" fill="#aff800"/>
<rect x="834.80" y="204.93" width="14.92" height="15.41" fill="#e1f800"/>
<rect x="849.32" y="204.93" width="14.92" height="15.41" fill="#ffe600"/>
<rect x="863.84" y="204.93" width="14.92" height="15.41" fill="#f6f600"/>
<rect x="878.36" y="204.93" width="43.96" height="15.41" fill="#98f800"/>
<rect x="921.91" y="204.93" width="14.92" height="15.41" fill="#aff800"/>
<rect x="936.43" y="204.93" width="14.92" height="15.41" fill="#ffe600"/>
<rect x="950.95" y="204.93" width="14.92" height="15.41" fill="#e1f800"/>
<rect x="965.47" y="204.93" width="14.92" height="15.41" fill="#ffe600"/>
<rect x="979.99" y="204.93" width="14.92" height="15.41" fill="#ffd200"/>
<rect x="994.51" y="204.93" width="102.03" height="15.41" fill="#ffa700"/>
<rect x="1096.14" y="204.93" width="14.92" height="15.41" fill="#ffbe00"/>
<rect x="1110.66" y="204.93" width="43.96" height="15.41" fill="#ffa700"/>
<rect x="1154.21" y="204.93" width="43.96" height="15.41" fill="#ffbe00"/>
<rect x="1197.77" y="204.93" width="43.96" height="15.41" fill="#ffa700"/>
<rect x="1241.32" y="204.93" width="14.92" height="15.41" fill="#ffd200"/>
<rect x="1255.84" y="204.93" width="14.92" height="15.41" fill="#e1f800"/>
<rect x="1270.36" y="204.93" width="29.44" height="15.41" fill="#aff800"/>
<rect x="834.80" y="219.94" width="14.92" height="15.41" fill="#e1f800"/>
<rect x="849.32" y="219.94" width="29.44" height="15.41" fill="#f6f600"/>
<rect x="878.36" y="219.94" width="14.92" height="15.41" fill="#98f800"/>
<rect x="892.88" y="219.94" width="14.92" height="15.41" fill="#aff800"/>
<rect x="907.39" y="219.94" width="14.92" height="15.41" fill="#e1f800"/>
<rect x="921.91" y="219.94" width="14.92" height="15.41" fill="#98f800"/>
<rect x="936.43" y="219.94" width="14.92" height="15.41" fill="#c8f800"/>
<rect x="950.95" y="219.94" width="29.44" height="15.41" fill="#e1f800"/>
<rect x="979.99" y="219.94" width="14.92" height="15.41" fill="#ffd200"/>
<rect x="994.51" y="219.94" width="29.44" height="15.41" fill="#ffa700"/>
<rect x="1023.54" y="219.94" width="29.44" height="15.41" fill="#ffd200"/>
<rect x="1052.58" y="219.94" width="72.99" height="15.41" fill="#ffbe00"/>
<rect x="1125.17" y="219.94" width="58.47" height="15.41" fill="#ffa700"/>
<rect x="1183.25" y="219.94" width="14.92" height="15.41" fill="#ffbe00"/>
<rect x="1197.77" y="219.94" width="29.44" height="15.41" fill="#ffa700"/>
<rect x="1226.81" y="219.94" width="14.92" height="15.41" fill="#f6f600"/>
<rect x="1241.32" y="219.94" width="14.92" height="15.41" fill="#c8f800"/>
<rect x="1255.84" y="219.94" width="43.96" height="15.41" fill="#aff800"/>
<rect x="834.80" y="234.95" width="43.96" height="15.41" fill="#e1f800"/>
<rect x="878.36" y="234.95" width="14.92" height="15.41" fill="#aff800"/>
<rect x="892.88" y="234.95" width="43.96" height="15.41" fill="#e1f800"/>
<rect x="936.43" y="234.95" width="29.44" height="15.41" fill="#98f800"/>
<rect x="965.47" y="234.95" width="14.92" height="15.41" fill="#aff800"/>
<rect x="979.99" y="234.95" width="14.92" height="15.41" fill="#ffd200"/>
<rect x="994.51" y="234.95" width="14.92" height="15.41" fill="#ffbe00"/>
<rect x="1009.02" y="234.95" width="14.92" height="15.41" fill="#ffa700"/>
<rect x="1023.54" y="234.95" width="14.92" height="15.41" fill="#ffd200"/>
<rect x="1038.06" y="234.95" width="58.47" height="15.41" fill="#ffbe00"/>
<rect x="1096.14" y="234.95" width="14.92" height="15.41" fill="#ffd200"/>
<rect x="1110.66" y="234.95" width="29.44" height="15.41" fill="#ffbe00"/>
<rect x="1139.69" y="234.95" width="29.44" height="15.41" fill="#ffa700"/>
<rect x="1168.73" y="234.95" width="14.92" height="15.41" fill="#ffbe00"/>
<rect x="1183.25" y="234.95" width="29.44" height="15.41" fill="#ffd200"/>
<rect x="1212.29" y="234.95" width="14.92" height="15.41" fill="#ffe600"/>
<rect x="1226.81" y="234.95" width="14.92" height="15.41" fill="#e1f800"/>
<rect x="1241.32" y="234.95" width="58.47" height="15.41" fill="#c8f800"/>
<rect x="834.80" y="249.96" width="29.44" height="15.41" fill="#e1f800"/>
<rect x="863.84" y="249.96" width="14.92" height="15.41" fill="#c8f800"/>
<rect x="878.36" y="249.96" width="58.47" height="15.41" fill="#aff800"/>
<rect x="936.43" y="249.96" width="14.92" height="15.41" fill="#98f800"/>
<rect x="950.95" y="249.96" width="29.44" height="15.41" fill="#82f600"/>
<rect x="979.99" y="249.96" width="14.92" height="15.41" fill="#f6f600"/>
<rect x="994.51" y="249.96" width="14.92" height="15.41" fill="#ffd200"/>
<rect x="1009.02" y="249.96" width="58.47" height="15.41" fill="#ffbe00"/>
<rect x="1067.10" y="249.96" width="14.92" height="15.41" fill="#ffa700"/>
<rect x="1081.62" y="249.96" width="58.47" height="15.41" fill="#ffbe00"/>
<rect x="1139.69" y="249.96" width="29.44" height="15.41" fill="#ffa700"/>
<rect x="1168.73" y="249.96" width="14.92" height="15.41" fill="#ffbe00"/>
<rect x="1183.25" y="249.96" width="14.92" height="15.41" fill="#f6f600"/>
<rect x="1197.77" y="249.96" width="87.51" height="15.41" fill="#e1f800"/>
<rect x="1284.88" y="249.96" width="14.92" height="15.41" fill="#c8f800"/>
<rect x="834.80" y="264.97" width="29.44" height="15.41" fill="#e1f800"/>
<rect x="863.84" y="264.97" width="14.92" height="15.41" fill="#c8f800"/>
<rect x="878.36" y="264.97" width="14.92" height="15.41" fill="#aff800"/>
<rect x="892.88" y="264.97" width="29.44" height="15.41" fill="#82f600"/>
<rect x="921.91" y="264.97" width="43.96" height="15.41" fill="#98f800"/>
<rect x="965.47" y="264.97" width="14.92" height="15.41" fill="#82f600"/>
<rect x="979.99" y="264.97" width="14.92" height="15.41" fill="#e1f800"/>
<rect x="994.51" y="264.97" width="14.92" height="15.41" fill="#f6f600"/>
<rect x="1009.02" y="264.97" width="14.92" height="15.41" fill="#ffe600"/>
<rect x="1023.54" y="264.97" width="14.92" height="15.41" fill="#ffd200"/>
<rect x="1038.06" y="264.97" width="29.44" height="15.41" fill="#ffa700"/>
<rect x="1067.10" y="264.97" width="14.92" height="15.41" fill="#ffbe00"/>
<rect x="1081.62" y="264.97" width="43.96" height="15.41" fill="#ffa700"/>
<rect x="1125.17" y="264.97" width="43.96" height="15.41" fill="#ffbe00"/>
<rect x="1168.73" y="264.97" width="14.92" height="15.41" fill="#ffd200"/>
<rect x="1183.25" y="264.97" width="14.92" height="15.41" fill="#f6f600"/>
<rect x="1197.77" y="264.97" width="29.44" height="15.41" fill="#aff800"/>
<rect x="1226.81" y="264.97" width="14.92" height="15.41" fill="#c8f800"/>
<rect x="1241.32" y="264.97" width="43.96" height="15.41" fill="#e1f800"/>
<rect x="1284.88" y="264.97" width="14.92" height="15.41" fill="#c8f800"/>
<rect x="834.80" y="279.98" width="14.92" height="15.41" fill="#e1f800"/>
<rect x="849.32" y="279.98" width="14.92" height="15.41" fill="#f6f600"/>
<rect x="863.84" y="279.98" width="14.92" height="15.41" fill="#e1f800"/>
<rect x="878.36" y="279.98" width="43.96" height="15.41" fill="#98f800"/>
<rect x="921.91" y="279.98" width="14.92" height="15.41" fill="#aff800"/>
<rect x="936.43" y="279.98" width="29.44" height="15.41" fill="#98f800"/>
<rect x="965.47" y="279.98" width="14.92" height="15.41" fill="#aff800"/>
<rect x="979.99" y="279.98" width="14.92" height="15.41" fill="#c8f800"/>
<rect x="994.51" y="279.98" width="29.44" height="15.41" fill="#e1f800"/>
<rect x="1023.54" y="279.98" width="14.92" height="15.41" fill="#f6f600"/>
<rect x="1038.06" y="279.98" width="72.99" height="15.41" fill="#ffbe00"/>
<rect x="1110.66" y="279.98" width="14.92" height="15.41" fill="#ffd200"/>
<rect x="1125.17" y="279.98" width="14.92" height="15.41" fill="#ffe600"/>
<rect x="1139.69" y="279.98" width="58.47" height="15.41" fill="#f6f600"/>
<rect x="1197.77" y="279.98" width="29.44" height="15.41" fill="#aff800"/>
<rect x="1226.81" y="279.98" width="29.44" height="15.41" fill="#c8f800"/>
<rect x="1255.84" y="279.98" width="29.44" height="15.41" fill="#e1f800"/>
<rect x="1284.88" y="279.98" width="14.92" height="15.41" fill="#c8f800"/>
<rect x="834.80" y="294.99" width="43.96" height="15.41" fill="#e1f800"/>
<rect x="878.36" y="294.99" width="14.92" height="15.41" fill="#aff800"/>
<rect x="892.88" y="294.99" width="14.92" height="15.41" fill="#c8f800"/>
<rect x="907.39" y="294.99" width="14.92" height="15.41" fill="#f6f600"/>
<rect x="921.91" y="294.99" width="14.92" height="15.41" fill="#e1f800"/>
<rect x="936.43" y="294.99" width="14.92" height="15.41" fill="#aff800"/>
<rect x="950.95" y="294.99" width="14.92" height="15.41" fill="#82f600"/>
<rect x="965.47" y="294.99" width="14.92" height="15.41" fill="#aff800"/>
<rect x="979.99" y="294.99" width="29.44" height="15.41" fill="#c8f800"/>
<rect x="1009.02" y="294.99" width="14.92" height="15.41" fill="#aff800"/>
<rect x="1023.54" y="294.99" width="14.92" height="15.41" fill="#e1f800"/>
<rect x="1038.06" y="294.99" width="43.96" height="15.41" fill="#ffd200"/>
<rect x="1081.62" y="294.99" width="29.44" height="15.41" fill="#ffbe00"/>
<rect x="1110.66" y="294.99" width="14.92" height="15.41" fill="#ffe600"/>
<rect x="1125.17" y="294.99" width="14.92" height="15.41" fill="#e1f800"/>
<rect x="1139.69" y="294.99" width="29.44" height="15.41" fill="#c8f800"/>
<rect x="1168.73" y="294.99" width="29.44" height="15.41" fill="#e1f800"/>
<rect x="1197.77" y="294.99" width="14.92" height="15.41" fill="#c8f800"/>
<rect x="1212.29" y="294.99" width="14.92" height="15.41" fill="#e1f800"/>
<rect x="1226.81" y="294.99" width="14.92" height="15.41" fill="#f6f600"/>
<rect x="1241.32" y="294.99" width="14.92" height="15.41" fill="#e1f800"/>
<rect x="1255.84" y="294.99" width="29.44" height="15.41" fill="#f6f600"/>
<rect x="1284.88" y="294.99" width="14.92" height="15.41" fill="#e1f800"/>
<rect x="834.80" y="310.00" width="43.96" height="15.41" fill="#e1f800"/>
<rect x="878.36" y="310.00" width="14.92" height="15.41" fill="#c8f800"/>
<rect x="892.88" y="310.00" width="14.92" height="15.41" fill="#e1f800"/>
<rect x="907.39" y="310.00" width="14.92" height="15.41" fill="#ffd200"/>
<rect x="921.91" y="310.00" width="14.92" height="15.41" fill="#f6f600"/>
<rect x="936.43" y="310.00" width="14.92" height="15.41" fill="#c8f800"/>
<rect x="950.95" y="310.00" width="43.96" height="15.41" fill="#aff800"/>
<rect x="994.51" y="310.00" width="14.92" height="15.41" fill="#c8f800"/>
<rect x="1009.02" y="310.00" width="14.92" height="15.41" fill="#aff800"/>
<rect x="1023.54" y="310.00" width="14.92" height="15.41" fill="#e1f800"/>
<rect x="1038.06" y="310.00" width="14.92" height="15.41" fill="#ffe600"/>
<rect x="1052.58" y="310.00" width="29.44" height="15.41" fill="#f6f600"/>
<rect x="1081.62" y="310.00" width="14.92" height="15.41" fill="#ffe600"/>
<rect x="1096.14" y="310.00" width="14.92" height="15.41" fill="#f6f600"/>
<rect x="1110.66" y="310.00" width="29.44" height="15.41" fill="#e1f800"/>
<rect x="1139.69" y="310.00" width="29.44" height="15.41" fill="#c8f800"/>
<rect x="1168.73" y="310.00" width="29.44" height="15.41" fill="#aff800"/>
<rect x="1197.77" y="310.00" width="14.92" height="15.41" fill="#c8f800"/>
<rect x="1212.29" y="310.00" width="87.51" height="15.41" fill="#e1f800"/>
<rect x="834.80" y="325.01" width="43.96" height="15.41" fill="#e1f800"/>
<rect x="878.36" y="325.01" width="14.92" height="15.41" fill="#c8f800"/>
<rect x="892.88" y="325.01" width="14.92" height="15.41" fill="#f6f600"/>
<rect x="907.39" y="325.01" width="14.92" height="15.41" fill="#ffbe00"/>
<rect x="921.91" y="325.01" width="14.92" height="15.41" fill="#f6f600"/>
<rect x="936.43" y="325.01" width="14.92" height="15.41" fill="#c8f800"/>
<rect x="950.95" y="325.01" width="29.44" height="15.41" fill="#aff800"/>
<rect x="979.99" y="325.01" width="14.92" height="15.41" fill="#c8f800"/>
<rect x="994.51" y="325.01" width="29.44" height="15.41" fill="#aff800"/>
<rect x="1023.54" y="325.01" width="14.92" height="15.41" fill="#c8f800"/>
<rect x="1038.06" y="325.01" width="58.47" height="15.41" fill="#e1f800"/>
<rect x="1096.14" y="325.01" width="29.44" height="15.41" fill="#c8f800"/>
<rect x="1125.17" y="325.01" width="29.44" height="15.41" fill="#f6f600"/>
<rect x="1154.21" y="325.01" width="14.92" height="15.41" fill="#e1f800"/>
<rect x="1168.73" y="325.01" width="14.92" height="15.41" fill="#aff800"/>
<rect x="1183.25" y="325.01" width="29.44" height="15.41" fill="#c8f800"/>
<rect x="1212.29" y="325.01" width="29.44" height="15.41" fill="#e1f800"/>
<rect x="1241.32" y="325.01" width="14.92" height="15.41" fill="#f6f600"/>
<rect x="1255.84" y="325.01" width="14.92" height="15.41" fill="#ffd200"/>
<rect x="1270.36" y="325.01" width="14.92" height="15.41" fill="#e1f800"/>
<rect x="1284.88" y="325.01" width="14.92" height="15.41" fill="#aff800"/>
<rect x="834.80" y="340.03" width="29.44" height="15.41" fill="#e1f800"/>
<rect x="863.84" y="340.03" width="29.44" height="15.41" fill="#c8f800"/>
<rect x="892.88" y="340.03" width="14.92" height="15.41" fill="#ffe600"/>
<rect x="907.39" y="340.03" width="14.92" height="15.41" fill="#ffa700"/>
<rect x="921.91" y="340.03" width="14.92" height="15.41" fill="#f6f600"/>
<rect x="936.43" y="340.03" width="14.92" height="15.41" fill="#98f800"/>
<rect x="950.95" y="340.03" width="14.92" height="15.41" fill="#c8f800"/>
<rect x="965.47" y="340.03" width="29.44" height="15.41" fill="#e1f800"/>
<rect x="994.51" y="340.03" width="14.92" height="15.41" fill="#c8f800"/>
<rect x="1009.02" y="340.03" width="14.92" height="15.41" fill="#aff800"/>
<rect x="1023.54" y="340.03" width="14.92" height="15.41" fill="#c8f800"/>
<rect x="1038.06" y="340.03" width="29.44" height="15.41" fill="#e1f800"/>
<rect x="1067.10" y="340.03" width="29.44" height="15.41" fill="#c8f800"/>
<rect x="1096.14" y="340.03" width="14.92" height="15.41" fill="#e1f800"/>
<rect x="1110.66" y="340.03" width="14.92" height="15.41" fill="#f6f600"/>
<rect x="1125.17" y="340.03" width="14.92" height="15.41" fill="#ffe600"/>
<rect x="1139.69" y="340.03" width="14.92" height="15.41" fill="#ffd200"/>
<rect x="1154.21" y="340.03" width="14.92" height="15.41" fill="#e1f800"/>
<rect x="1168.73" y="340.03" width="14.92" height="15.41" fill="#c8f800"/>
<rect x="1183.25" y="340.03" width="58.47" height="15.41" fill="#e1f800"/>
<rect x="1241.32" y="340.03" width="14.92" height="15.41" fill="#f6f600"/>
<rect x="1255.84" y="340.03" width="14.92" height="15.41" fill="#ffd200"/>
<rect x="1270.36" y="340.03" width="14.92" height="15.41" fill="#e1f800"/>
<rect x="1284.88" y="340.03" width="14.92" height="15.41" fill="#c8f800"/>
<rect x="834.80" y="355.04" width="14.92" height="15.41" fill="#f6f600"/>
<rect x="849.32" y="355.04" width="29.44" height="15.41" fill="#e1f800"/>
<rect x="878.36" y="355.04" width="14.92" height="15.41" fill="#aff800"/>
<rect x="892.88" y="355.04" width="14.92" height="15.41" fill="#f6f600"/>
<rect x="907.39" y="355.04" width="14.92" height="15.41" fill="#ffbe00"/>
<rect x="921.91" y="355.04" width="14.92" height="15.41" fill="#e1f800"/>
<rect x="936.43" y="355.04" width="14.92" height="15.41" fill="#c8f800"/>
<rect x="950.95" y="355.04" width="14.92" height="15.41" fill="#ffe600"/>
<rect x="965.47" y="355.04" width="14.92" height="15.41" fill="#ffd200"/>
<rect x="979.99" y="355.04" width="14.92" height="15.41" fill="#f6f600"/>
<rect x="994.51" y="355.04" width="14.92" height="15.41" fill="#e1f800"/>
<rect x="1009.02" y="355.04" width="29.44" height="15.41" fill="#c8f800"/>
<rect x="1038.06" y="355.04" width="43.96" height="15.41" fill="#aff800"/>
<rect x="1081.62" y="355.04" width="29.44" height="15.41" fill="#c8f800"/>
<rect x="1110.66" y="355.04" width="29.44" height="15.41" fill="#e1f800"/>
<rect x="1139.69" y="355.04" width="87.51" height="15.41" fill="#f6f600"/>
<rect x="1226.81" y="355.04" width="72.99" height="15.41" fill="#e1f800"/>
<rect x="834.80" y="370.05" width="43.96" height="15.41" fill="#f6f600"/>
<rect x="878.36" y="370.05" width="14.92" height="15.41" fill="#aff800"/>
<rect x="892.88" y="370.05" width="14.92" height="15.41" fill="#ffe600"/>
<rect x="907.39" y="370.05" width="14.92" height="15.41" fill="#ffbe00"/>
<rect x="921.91" y="370.05" width="14.92" height="15.41" fill="#f6f600"/>
<rect x="936.43" y="370.05" width="14.92" height="15.41" fill="#ffd200"/>
<rect x="950.95" y="370.05" width="14.92" height="15.41" fill="#ffa700"/>
<rect x="965.47" y="370.05" width="14.92" height="15.41" fill="#ffe600"/>
<rect x="979.99" y="370.05" width="29.44" height="15.41" fill="#f6f600"/>
<rect x="1009.02" y="370.05" width="14.92" height="15.41" fill="#e1f800"/>
<rect x="1023.54" y="370.05" width="14.92" height="15.41" fill="#c8f800"/>
<rect x="1038.06" y="370.05" width="14.92" height="15.41" fill="#aff800"/>
<rect x="1052.58" y="370.05" width="14.92" height="15.41" fill="#c8f800"/>
<rect x="1067.10" y="370.05" width="72.99" height="15.41" fill="#aff800"/>
<rect x="1139.69" y="370.05" width="14.92" height="15.41" fill="#e1f800"/>
<rect x="1154.21" y="370.05" width="14.92" height="15.41" fill="#ffe600"/>
<rect x="1168.73" y="370.05" width="43.96" height="15.41" fill="#f6f600"/>
<rect x="1212.29" y="370.05" width="87.51" height="15.41" fill="#e1f800"/>
<rect x="834.80" y="385.06" width="14.92" height="15.41" fill="#ffe600"/>
<rect x="849.32" y="385.06" width="14.92" height="15.41" fill="#f6f600"/>
<rect x="863.84" y="385.06" width="29.44" height="15.41" fill="#ffd200"/>
<rect x="892.88" y="385.06" width="14.92" height="15.41" fill="#ffbe00"/>
<rect x="907.39" y="385.06" width="14.92" height="15.41" fill="#ffd200"/>
<rect x="921.91" y="385.06" width="14.92" height="15.41" fill="#e1f800"/>
<rect x="936.43" y="385.06" width="14.92" height="15.41" fill="#ffbe00"/>
<rect x="950.95" y="385.06" width="14.92" height="15.41" fill="#ff8e00"/>
<rect x="965.47" y="385.06" width="14.92" height="15.41" fill="#f6f600"/>
<rect x="979.99" y="385.06" width="14.92" height="15.41" fill="#ffe600"/>
<rect x="994.51" y="385.06" width="14.92" height="15.41" fill="#ffbe00"/>
<rect x="1009.02" y="385.06" width="14.92" height="15.41" fill="#e1f800"/>
<rect x="1023.54" y="385.06" width="29.44" height="15.41" fill="#c8f800"/>
<rect x="1052.58" y="385.06" width="14.92" height="15.41" fill="#aff800"/>
<rect x="1067.10" y="385.06" width="58.47" height="15.41" fill="#c8f800"/>
<rect x="1125.17" y="385.06" width="29.44" height="15.41" fill="#e1f800"/>
<rect x="1154.21" y="385.06" width="14.92" height="15.41" fill="#f6f600"/>
<rect x="1168.73" y="385.06" width="87.51" height="15.41" fill="#e1f800"/>
<rect x="1255.84" y="385.06" width="29.44" height="15.41" fill="#f6f600"/>
<rect x="1284.88" y="385.06" width="14.92" height="15.41" fill="#e1f800"/>
<rect x="834.80" y="400.07" width="14.92" height="15.41" fill="#ffd200"/>
<rect x="849.32" y="400.07" width="14.92" height="15.41" fill="#ffa700"/>
<rect x="863.84" y="400.07" width="14.92" height="15.41" fill="#ff8e00"/>
<rect x="878.36" y="400.07" width="29.44" height="15.41" fill="#ffa700"/>
<rect x="907.39" y="400.07" width="14.92" height="15.41" fill="#ffd200"/>
<rect x="921.91" y="400.07" width="14.92" height="15.41" fill="#c8f800"/>
<rect x="936.43" y="400.07" width="14.92" height="15.41" fill="#ffbe00"/>
<rect x="950.95" y="400.07" width="14.92" height="15.41" fill="#ff8e00"/>
<rect x="965.47" y="400.07" width="29.44" height="15.41" fill="#ffe600"/>
<rect x="994.51" y="400.07" width="14.92" height="15.41" fill="#ffbe00"/>
<rect x="1009.02" y="400.07" width="29.44" height="15.41" fill="#c8f800"/>
<rect x="1038.06" y="400.07" width="14.92" height="15.41" fill="#aff800"/>
<rect x="1052.58" y="400.07" width="14.92" height="15.41" fill="#82f600"/>
<rect x="1067.10" y="400.07" width="14.92" height="15.41" fill="#aff800"/>
<rect x="1081.62" y="400.07" width="43.96" height="15.41" fill="#c8f800"/>
<rect x="1125.17" y="400.07" width="29.44" height="15.41" fill="#e1f800"/>
<rect x="1154.21" y="400.07" width="72.99" height="15.41" fill="#c8f800"/>
<rect x="1226.81" y="400.07" width="72.99" height="15.41" fill="#e1f800"/>
<rect x="834.80" y="415.08" width="14.92" height="15.41" fill="#ffd200"/>
<rect x="849.32" y="415.08" width="29.44" height="15.41" fill="#ff8e00"/>
<rect x="878.36" y="415.08" width="29.44" height="15.41" fill="#ffa700"/>
<rect x="907.39" y="415.08" width="14.92" height="15.41" fill="#ffbe00"/>
<rect x="921.91" y="415.08" width="14.92" height="15.41" fill="#ffe600"/>
<rect x="936.43" y="415.08" width="29.44" height="15.41" fill="#ffbe00"/>
<rect x="965.47" y="415.08" width="29.44" height="15.41" fill="#ffe600"/>
<rect x="994.51" y="415.08" width="14.92" height="15.41" fill="#ffd200"/>
<rect x="1009.02" y="415.08" width="14.92" height="15.41" fill="#f6f600"/>
<rect x="1023.54" y="415.08" width="29.44" height="15.41" fill="#e1f800"/>
<rect x="1052.58" y="415.08" width="14.92" height="15.41" fill="#98f800"/>
<rect x="1067.10" y="415.08" width="29.44" height="15.41" fill="#c8f800"/>
<rect x="1096.14" y="415.08" width="29.44" height="15.41" fill="#aff800"/>
<rect x="1125.17" y="415.08" width="72.99" height="15.41" fill="#c8f800"/>
<rect x="1197.77" y="415.08" width="14.92" height="15.41" fill="#aff800"/>
<rect x="1212.29" y="415.08" width="14.92" height="15.41" fill="#c8f800"/>
<rect x="1226.81" y="415.08" width="29.44" height="15.41" fill="#e1f800"/>
<rect x="1255.84" y="415.08" width="29.44" height="15.41" fill="#aff800"/>
<rect x="1284.88" y="415.08" width="14.92" height="15.41" fill="#c8f800"/>
<rect x="834.80" y="430.09" width="43.96" height="15.41" fill="#ffbe00"/>
<rect x="878.36" y="430.09" width="14.92" height="15.41" fill="#ffa700"/>
<rect x="892.88" y="430.09" width="14.92" height="15.41" fill="#ff7300"/>
<rect x="907.39" y="430.09" width="14.92" height="15.41" fill="#ffa700"/>
<rect x="921.91" y="430.09" width="14.92" height="15.41" fill="#ffbe00"/>
<rect x="936.43" y="430.09" width="14.92" height="15.41" fill="#ffd200"/>
<rect x="950.95" y="430.09" width="14.92" height="15.41" fill="#ffe600"/>
<rect x="965.47" y="430.09" width="14.92" height="15.41" fill="#f6f600"/>
<rect x="979.99" y="430.09" width="72.99" height="15.41" fill="#e1f800"/>
<rect x="1052.58" y="430.09" width="14.92" height="15.41" fill="#aff800"/>
<rect x="1067.10" y="430.09" width="43.96" height="15.41" fill="#e1f800"/>
<rect x="1110.66" y="430.09" width="43.96" height="15.41" fill="#c8f800"/>
<rect x="1154.21" y="430.09" width="14.92" height="15.41" fill="#aff800"/>
<rect x="1168.73" y="430.09" width="87.51" height="15.41" fill="#c8f800"/>
<rect x="1255.84" y="430.09" width="14.92" height="15.41" fill="#aff800"/>
<rect x="1270.36" y="430.09" width="29.44" height="15.41" fill="#c8f800"/><g fill="none" stroke="#45450c" stroke-opacity="0.8" stroke-width="0.75" stroke-linejoin="round"><path d="M1068.6 46.1L1075.1 48.3L1080.9 45.6L1090.0 40.2L1093.2 34.8L1090.8 30.4L1093.2 28.2L1097.4 30.4L1098.2 33.1L1101.5 40.2L1103.9 41.5L1111.3 38.4L1116.3 34.8L1126.2 32.5L1130.8 32.2L1132.7 40.2L1137.7 42.9L1145.9 44.7L1149.2 47.4L1154.1 43.8L1160.7 42.0L1168.9 39.0L1172.2 41.5L1186.2 41.5L1186.7 51.8L1191.2 56.3L1198.6 59.9L1203.5 53.6L1208.4 52.7L1211.7 59.9L1220.0 61.7L1226.5 65.3L1233.1 71.5L1241.4 74.7L1247.9 70.6L1254.5 67.9L1262.7 68.8L1270.1 67.9L1274.3 72.4L1280.8 76.9L1289.1 81.4L1298.9 85.0"/><path d="M1097.4 30.4L1101.5 31.8L1111.3 28.6L1119.6 25.0"/><path d="M1270.1 67.9L1266.0 72.4L1264.4 77.8L1257.8 84.1L1259.5 88.5L1267.7 95.7L1273.4 98.4L1272.6 105.5L1262.7 110.9L1254.5 114.5L1252.0 123.2"/><path d="M1255.3 114.8L1252.9 120.2L1243.0 130.0L1245.5 134.5L1241.4 139.9L1240.5 147.0L1234.8 156.0L1230.7 157.8L1223.2 151.5L1216.7 153.3L1213.4 157.8L1214.2 164.9L1206.8 173.9L1198.6 186.4L1188.7 198.9L1186.2 202.5L1182.1 200.7L1173.9 202.5L1167.3 198.0L1162.4 188.2L1158.2 184.6L1149.2 188.2L1141.0 191.8L1132.7 186.4L1122.9 181.9L1113.0 181.0L1108.9 184.6L1108.1 190.0L1102.3 196.2L1103.9 200.7L1113.0 204.3L1108.9 213.1"/><path d="M1298.9 165.8L1290.7 170.3L1282.5 169.4L1277.6 173.9L1268.5 175.7L1266.0 181.9L1271.8 188.2L1273.4 193.5L1271.0 204.3L1268.5 213.1"/><path d="M1114.6 204.6L1110.5 211.8L1101.5 217.1L1093.2 222.5L1085.0 229.7L1085.8 235.0L1093.2 244.9L1106.4 246.7L1109.7 256.5L1112.2 265.5L1122.9 267.3L1134.4 269.9L1139.3 276.2L1143.4 285.1L1149.2 294.1L1145.9 296.8L1139.3 290.5L1131.1 283.4L1124.5 280.7L1117.9 286.9L1108.1 294.1L1103.9 302.9"/><path d="M1149.2 294.1L1154.1 288.7L1153.3 274.4L1157.4 281.6L1159.1 286.9L1158.2 294.1L1160.7 295.9L1167.3 296.8L1168.9 290.5L1173.9 285.1L1172.2 279.8L1182.1 274.4L1193.6 274.4L1198.6 278.0L1203.5 272.6L1208.4 267.3L1205.1 261.9L1208.4 254.7L1216.7 252.9L1224.9 255.6L1229.0 254.7L1233.1 263.7L1241.4 262.8L1249.6 261.9L1259.5 261.0L1260.3 272.6L1264.4 279.8L1265.2 285.1L1275.9 286.9L1274.3 294.1L1276.7 302.9"/><path d="M1268.5 204.6L1264.4 213.6L1268.5 211.8L1271.0 218.9L1277.6 213.6L1282.5 220.7L1289.1 227.9L1294.0 235.9L1295.7 243.1L1298.9 244.0"/><path d="M1280.8 302.9L1280.0 297.7L1283.3 295.9L1287.4 298.6L1288.3 302.9"/><path d="M1068.6 320.4L1076.8 321.3L1082.6 325.7L1083.4 332.9L1085.0 341.0L1083.4 351.7L1080.1 358.8L1073.5 361.5L1068.6 362.4"/><path d="M1103.9 294.4L1104.8 301.6L1108.1 306.1L1113.0 307.0L1117.9 312.3L1121.2 316.8L1126.2 318.6L1131.1 315.9L1136.0 315.9L1141.0 321.3L1143.4 328.4L1145.1 332.9L1141.0 336.5L1131.1 338.3L1122.9 341.0L1113.0 342.7L1103.9 344.5L1098.2 340.1L1093.2 339.2L1085.0 341.0"/><path d="M1143.4 294.4L1146.7 296.2L1149.2 294.4"/><path d="M1159.1 294.4L1163.2 297.1L1168.1 296.2"/><path d="M1275.1 294.4L1275.9 299.8L1279.2 304.3L1280.8 298.0L1284.1 297.1L1286.6 301.6L1285.8 311.4L1289.9 312.3L1298.9 315.9"/><path d="M1298.9 373.2L1292.4 377.6L1286.6 381.2L1292.4 383.9L1298.9 382.1"/><path d="M844.4 25.0L842.8 28.6L846.9 32.2L843.6 38.4L840.3 43.8L835.4 45.6"/><path d="M1032.9 25.0L1027.1 28.6L1027.9 33.9L1035.3 37.5L1044.4 41.1L1052.6 43.8L1062.5 47.4L1068.6 45.6"/><path d="M1024.6 303.9L1024.6 296.9L1027.9 291.6L1034.5 288.9L1033.7 286.2L1026.3 286.2L1016.4 288.9L1006.5 288.0L1000.8 285.3L997.5 291.6L999.9 296.9L1003.2 303.9"/><path d="M997.5 296.5L1001.6 301.9L999.9 309.1L993.4 312.6L986.8 310.9L980.2 314.4L977.7 318.9L980.2 323.4L984.3 327.0L978.6 334.1L972.0 341.3L967.0 348.4L960.5 353.8L953.9 359.2L948.9 361.0L945.6 368.1L944.8 377.1L947.3 386.0L948.9 394.8"/><path d="M1023.8 296.5L1025.5 301.9L1031.2 307.3L1035.3 313.5L1030.4 318.0L1028.7 322.5L1036.2 328.7L1044.4 334.1L1054.3 331.4L1062.5 325.2L1068.6 319.8"/><path d="M1068.6 361.0L1064.1 365.4L1057.5 366.3L1051.0 361.0L1041.1 362.8L1032.0 357.4L1024.6 361.0L1018.0 367.2L1011.5 361.0L1006.5 358.3L1001.6 366.3L993.4 373.5L986.8 378.9L990.1 384.2L995.0 387.8L994.2 394.8"/><path d="M835.4 362.8L840.3 369.9L845.3 373.5L847.7 380.6L851.8 386.0L856.8 391.4L859.2 394.8"/><path d="M842.8 372.6L846.9 379.8L853.5 387.8L857.6 391.4L860.1 398.6L865.0 399.5L862.5 405.7L858.4 410.2L861.7 414.7L867.5 417.3L873.2 420.9L874.9 425.4L869.9 428.1L874.1 432.6L881.5 434.3L884.8 441.5L891.3 440.6L899.6 437.9L907.8 433.5L916.0 428.1L924.3 424.5L930.8 429.9L937.4 426.3L944.0 422.7L950.6 417.3L954.7 412.9L952.2 404.8L948.9 395.9L945.6 386.9L944.0 378.0L944.8 372.6"/><path d="M994.2 372.6L986.8 380.7L990.9 384.2L994.2 392.3L993.4 399.5L995.8 408.4L1001.6 412.9L1009.8 413.8L1016.4 411.1L1024.6 408.4L1031.2 405.7L1033.7 403.0L1037.0 407.5L1041.1 411.1L1046.0 415.6L1049.3 421.8L1044.4 428.1L1041.1 433.5L1037.8 440.6L1037.0 445.3"/></g><g stroke="#1a1a06" stroke-width="0.75" stroke-opacity="0.9"><circle cx="903.0" cy="89.8" r="2.5" fill="none"/><circle cx="906.3" cy="91.4" r="2.5" fill="none"/><circle cx="1048.3" cy="117.4" r="2.5" fill="#ff8c00"/><circle cx="1051.5" cy="115.0" r="2.5" fill="#f6f020"/><circle cx="1052.8" cy="118.0" r="2.5" fill="#b4e000"/><circle cx="1029.3" cy="138.8" r="2.5" fill="#f6f020"/><circle cx="1032.9" cy="138.0" r="2.5" fill="#ff8c00"/><circle cx="986.1" cy="143.4" r="2.5" fill="#f01800"/><circle cx="1006.8" cy="162.0" r="2.5" fill="#f01800"/><circle cx="1010.1" cy="165.8" r="2.5" fill="#f01800"/><circle cx="1019.3" cy="163.9" r="2.5" fill="#f01800"/><circle cx="1015.0" cy="167.5" r="2.5" fill="#f4f490"/><circle cx="1013.4" cy="171.2" r="2.5" fill="#f4f490"/><circle cx="999.8" cy="199.4" r="2.5" fill="#f01800"/><circle cx="1003.4" cy="201.9" r="2.5" fill="#f01800"/><circle cx="1046.6" cy="196.0" r="2.5" fill="#3a9618"/><circle cx="1046.1" cy="197.2" r="2.5" fill="#fa4a00"/><circle cx="890.4" cy="201.6" r="2.5" fill="#5fb818"/><circle cx="951.0" cy="204.3" r="2.5" fill="#f6f020"/><circle cx="994.8" cy="228.8" r="2.5" fill="#ff8c00"/><circle cx="995.7" cy="232.0" r="2.5" fill="#ff8c00"/><circle cx="1050.6" cy="244.7" r="2.5" fill="#f01800"/><circle cx="1054.2" cy="244.0" r="2.5" fill="#ffb030"/><circle cx="1043.5" cy="275.8" r="2.5" fill="#fa4a00"/><circle cx="1046.5" cy="279.6" r="2.5" fill="#ff8c00"/><circle cx="1042.4" cy="282.0" r="2.5" fill="#fa4a00"/><circle cx="906.6" cy="331.9" r="2.5" fill="#f01800"/><circle cx="908.8" cy="334.7" r="2.5" fill="#f01800"/><circle cx="912.5" cy="337.1" r="2.5" fill="#f01800"/><circle cx="992.0" cy="365.2" r="2.5" fill="#fa4a00"/><circle cx="868.6" cy="409.7" r="2.5" fill="#f01800"/><circle cx="875.2" cy="410.7" r="2.5" fill="#fa4a00"/><circle cx="876.8" cy="410.2" r="2.5" fill="#fa4a00"/><circle cx="878.1" cy="415.4" r="2.5" fill="#fa4a00"/><circle cx="1057.6" cy="409.8" r="2.5" fill="#5fb818"/><circle cx="1060.9" cy="410.2" r="2.5" fill="#5fb818"/><circle cx="1064.2" cy="412.6" r="2.5" fill="#5fb818"/><circle cx="1115.0" cy="59.3" r="2.5" fill="#3a9618"/><circle cx="1117.1" cy="58.9" r="2.5" fill="#5fb818"/><circle cx="1118.8" cy="57.8" r="2.5" fill="#5fb818"/><circle cx="1168.8" cy="92.5" r="2.5" fill="#5fb818"/><circle cx="1299.0" cy="43.5" r="2.5" fill="#5fb818"/><circle cx="1213.9" cy="127.9" r="2.5" fill="#fa4a00"/><circle cx="1213.4" cy="133.2" r="2.5" fill="#b4e000"/><circle cx="1209.8" cy="132.7" r="2.5" fill="#f6f020"/><circle cx="1131.5" cy="154.7" r="2.5" fill="#b4e000"/><circle cx="1132.0" cy="158.4" r="2.5" fill="#5fb818"/><circle cx="1128.6" cy="159.3" r="2.5" fill="#f6f020"/><circle cx="1106.4" cy="168.3" r="2.5" fill="#5fb818"/><circle cx="1114.7" cy="167.1" r="2.5" fill="#5fb818"/><circle cx="1110.9" cy="170.8" r="2.5" fill="#f6f020"/><circle cx="1101.8" cy="177.1" r="2.5" fill="#f6f020"/><circle cx="1161.7" cy="173.7" r="2.5" fill="#b4e000"/><circle cx="1162.2" cy="177.9" r="2.5" fill="#5fb818"/><circle cx="1070.3" cy="230.3" r="2.5" fill="#ffd040"/><circle cx="1146.9" cy="215.4" r="2.5" fill="#f01800"/><circle cx="1149.4" cy="215.9" r="2.5" fill="#f6f020"/><circle cx="1151.1" cy="222.4" r="2.5" fill="#ff8c00"/><circle cx="1161.7" cy="222.0" r="2.5" fill="#ff8c00"/><circle cx="1157.7" cy="226.5" r="2.5" fill="#f6f020"/><circle cx="1163.0" cy="228.2" r="2.5" fill="#ff8c00"/><circle cx="1142.6" cy="229.5" r="2.5" fill="#f01800"/><circle cx="1148.4" cy="231.0" r="2.5" fill="#f01800"/><circle cx="1154.2" cy="232.8" r="2.5" fill="#f6f020"/><circle cx="1157.7" cy="234.8" r="2.5" fill="#ff8c00"/><circle cx="1161.8" cy="235.6" r="2.5" fill="#b4e000"/><circle cx="1146.1" cy="235.9" r="2.5" fill="#f6f020"/><circle cx="1152.2" cy="236.4" r="2.5" fill="#b4e000"/><circle cx="1154.4" cy="242.2" r="2.5" fill="#ff8c00"/><circle cx="1157.2" cy="240.2" r="2.5" fill="#f01800"/><circle cx="1092.2" cy="267.6" r="2.5" fill="#f6f020"/><circle cx="1092.2" cy="271.2" r="2.5" fill="#ffb030"/><circle cx="1092.2" cy="274.2" r="2.5" fill="#fa4a00"/><circle cx="1178.7" cy="342.5" r="2.5" fill="#5fb818"/><circle cx="1176.2" cy="346.8" r="2.5" fill="#5fb818"/><circle cx="1084.4" cy="367.3" r="2.5" fill="none"/><circle cx="1161.3" cy="407.7" r="2.5" fill="#5fb818"/><circle cx="1169.3" cy="407.2" r="2.5" fill="#f6f020"/><circle cx="1166.3" cy="409.7" r="2.5" fill="#3a9618"/><circle cx="1167.6" cy="411.0" r="2.5" fill="#f6f020"/><circle cx="1165.5" cy="413.4" r="2.5" fill="#b4e000"/><circle cx="1164.6" cy="415.0" r="2.5" fill="#3a9618"/><circle cx="1163.5" cy="419.1" r="2.5" fill="#5fb818"/><circle cx="1172.4" cy="427.4" r="2.5" fill="#b4e000"/><circle cx="1119.6" cy="430.7" r="2.5" fill="#5fb818"/><circle cx="1121.6" cy="430.1" r="2.5" fill="#5fb818"/><circle cx="1122.8" cy="429.6" r="2.5" fill="#5fb818"/><circle cx="1234.6" cy="413.5" r="2.5" fill="#5fb818"/><circle cx="1240.3" cy="410.9" r="2.5" fill="#5fb818"/></g></g>
<rect x="835.0" y="25.0" width="464.6" height="420.3" fill="none" stroke="#2a2a10" stroke-width="1"/>
<g font-size="8.8" fill="#303030" stroke="#303030" stroke-width="0.8"><line x1="835.0" y1="445.3" x2="835.0" y2="447.8"/><text stroke="none" x="835.0" y="456.6" text-anchor="middle">101° E</text><line x1="893.1" y1="445.3" x2="893.1" y2="447.8"/><text stroke="none" x="893.1" y="456.6" text-anchor="middle">102° E</text><line x1="893.1" y1="25.0" x2="893.1" y2="22.5"/><text stroke="none" x="893.1" y="19.9" text-anchor="middle">102° E</text><line x1="951.1" y1="445.3" x2="951.1" y2="447.8"/><text stroke="none" x="951.1" y="456.6" text-anchor="middle">103° E</text><line x1="951.1" y1="25.0" x2="951.1" y2="22.5"/><text stroke="none" x="951.1" y="19.9" text-anchor="middle">103° E</text><line x1="1009.2" y1="445.3" x2="1009.2" y2="447.8"/><text stroke="none" x="1009.2" y="456.6" text-anchor="middle">104° E</text><line x1="1009.2" y1="25.0" x2="1009.2" y2="22.5"/><text stroke="none" x="1009.2" y="19.9" text-anchor="middle">104° E</text><line x1="1067.3" y1="445.3" x2="1067.3" y2="447.8"/><text stroke="none" x="1067.3" y="456.6" text-anchor="middle">105° E</text><line x1="1067.3" y1="25.0" x2="1067.3" y2="22.5"/><text stroke="none" x="1067.3" y="19.9" text-anchor="middle">105° E</text><line x1="1125.4" y1="445.3" x2="1125.4" y2="447.8"/><text stroke="none" x="1125.4" y="456.6" text-anchor="middle">106° E</text><line x1="1125.4" y1="25.0" x2="1125.4" y2="22.5"/><text stroke="none" x="1125.4" y="19.9" text-anchor="middle">106° E</text><line x1="1183.4" y1="445.3" x2="1183.4" y2="447.8"/><text stroke="none" x="1183.4" y="456.6" text-anchor="middle">107° E</text><line x1="1183.4" y1="25.0" x2="1183.4" y2="22.5"/><text stroke="none" x="1183.4" y="19.9" text-anchor="middle">107° E</text><line x1="1241.5" y1="445.3" x2="1241.5" y2="447.8"/><text stroke="none" x="1241.5" y="456.6" text-anchor="middle">108° E</text><line x1="1241.5" y1="25.0" x2="1241.5" y2="22.5"/><text stroke="none" x="1241.5" y="19.9" text-anchor="middle">108° E</text><line x1="1299.6" y1="445.3" x2="1299.6" y2="447.8"/><text stroke="none" x="1299.6" y="456.6" text-anchor="middle">109° E</text><line x1="1299.6" y1="25.0" x2="1299.6" y2="22.5"/><text stroke="none" x="1299.6" y="19.9" text-anchor="middle">109° E</text><line x1="835.0" y1="385.3" x2="832.5" y2="385.3"/><text stroke="none" transform="translate(830.1 385.3) rotate(-90)" text-anchor="middle">27° N</text><line x1="1299.6" y1="385.3" x2="1302.1" y2="385.3"/><text stroke="none" transform="translate(1311.0 385.3) rotate(-90)" text-anchor="middle">27° N</text><line x1="835.0" y1="325.2" x2="832.5" y2="325.2"/><text stroke="none" transform="translate(830.1 325.2) rotate(-90)" text-anchor="middle">28° N</text><line x1="1299.6" y1="325.2" x2="1302.1" y2="325.2"/><text stroke="none" transform="translate(1311.0 325.2) rotate(-90)" text-anchor="middle">28° N</text><line x1="835.0" y1="265.2" x2="832.5" y2="265.2"/><text stroke="none" transform="translate(830.1 265.2) rotate(-90)" text-anchor="middle">29° N</text><line x1="1299.6" y1="265.2" x2="1302.1" y2="265.2"/><text stroke="none" transform="translate(1311.0 265.2) rotate(-90)" text-anchor="middle">29° N</text><line x1="835.0" y1="205.1" x2="832.5" y2="205.1"/><text stroke="none" transform="translate(830.1 205.1) rotate(-90)" text-anchor="middle">30° N</text><line x1="1299.6" y1="205.1" x2="1302.1" y2="205.1"/><text stroke="none" transform="translate(1311.0 205.1) rotate(-90)" text-anchor="middle">30° N</text><line x1="835.0" y1="145.1" x2="832.5" y2="145.1"/><text stroke="none" transform="translate(830.1 145.1) rotate(-90)" text-anchor="middle">31° N</text><line x1="1299.6" y1="145.1" x2="1302.1" y2="145.1"/><text stroke="none" transform="translate(1311.0 145.1) rotate(-90)" text-anchor="middle">31° N</text><line x1="835.0" y1="85.0" x2="832.5" y2="85.0"/><text stroke="none" transform="translate(830.1 85.0) rotate(-90)" text-anchor="middle">32° N</text><line x1="1299.6" y1="85.0" x2="1302.1" y2="85.0"/><text stroke="none" transform="translate(1311.0 85.0) rotate(-90)" text-anchor="middle">32° N</text><line x1="835.0" y1="25.0" x2="832.5" y2="25.0"/><text stroke="none" transform="translate(830.1 25.0) rotate(-90)" text-anchor="middle">33° N</text></g>
<g fill="#33330c" stroke="#33330c" stroke-width="0.2"><text x="953.9" y="240.2" font-size="9.9" text-anchor="start" >Sichuan</text><text x="1170.9" y="232.7" font-size="9.9" text-anchor="start" >Chongqing</text><text x="1233.3" y="51.0" font-size="9.9" text-anchor="start" >Shanxi</text><text x="1195.2" y="368.5" font-size="9.9" text-anchor="start" >Guizhou</text><text x="963.0" y="428.0" font-size="9.9" text-anchor="start" >Yunnan</text><text x="1277.0" y="205.5" font-size="9.9" text-anchor="start" >Hubei</text></g>
<text transform="translate(841.2 46.0) scale(0.96 1)" font-size="20.4" font-weight="bold" fill="#111">(2019)</text>
<text x="862.1" y="198.9" font-size="9.4" text-anchor="middle" font-family="Liberation Sans, sans-serif" fill="#101010" stroke="#101010" stroke-width="0.25">N</text><path d="M862.1 202.3L854.5 226.3L862.1 219.1Z" fill="#0a0a0a" stroke="#0a0a0a" stroke-width="0.6"/><path d="M862.1 202.3L869.7 226.3L862.1 219.1Z" fill="none" stroke="#0a0a0a" stroke-width="0.7"/>
<defs><linearGradient id="gr" x1="0" x2="1" y1="0" y2="0"><stop offset="0" stop-color="#30ea18"/><stop offset="0.25" stop-color="#98f400"/><stop offset="0.5" stop-color="#f6f400"/><stop offset="0.75" stop-color="#ff9000"/><stop offset="1" stop-color="#f80c00"/></linearGradient></defs><rect x="848.4" y="471.8" width="174.0" height="10.2" fill="url(#gr)"/><g fill="#303030"><text x="842.6" y="493.6" font-size="12.4" text-anchor="start" >36</text><text x="935.4" y="493.6" font-size="12.4" text-anchor="middle" >54</text><text x="1007.1" y="493.6" font-size="12.4" text-anchor="start" >72 ppb</text></g>
<g stroke="#505050" stroke-width="0.9" fill="none"><path d="M1079.1 490.3L1222.3 490.3"/><path d="M1079.1 490.3L1079.1 486.3"/><path d="M1097.0 490.3L1097.0 488.1"/><path d="M1114.9 490.3L1114.9 487.3"/><path d="M1132.8 490.3L1132.8 488.1"/><path d="M1150.7 490.3L1150.7 487.3"/><path d="M1168.6 490.3L1168.6 488.1"/><path d="M1186.5 490.3L1186.5 487.3"/><path d="M1204.4 490.3L1204.4 488.1"/><path d="M1222.3 490.3L1222.3 486.3"/></g><g font-size="10" fill="#303030"><text x="1079.1" y="483.2" font-size="10.6" text-anchor="middle" >0</text><text x="1114.9" y="483.2" font-size="10.6" text-anchor="middle" >50</text><text x="1150.7" y="483.2" font-size="10.6" text-anchor="middle" >100</text><text x="1213.8" y="483.2" font-size="10.6" text-anchor="start" word-spacing="1.5">200 Km</text></g>
<text x="1289.1" y="476.5" font-size="7.3" text-anchor="middle" font-family="Liberation Sans, sans-serif" fill="#101010" stroke="#101010" stroke-width="0.25">N</text><path d="M1289.1 479.3L1283.2 496.0L1289.1 491.0Z" fill="#0a0a0a" stroke="#0a0a0a" stroke-width="0.6"/><path d="M1289.1 479.3L1295.0 496.0L1289.1 491.0Z" fill="none" stroke="#0a0a0a" stroke-width="0.7"/>
</g>
<g font-size="25" fill="#111" filter="url(#bl)"><text transform="translate(12.5 529.7) scale(1.072 1)">(<tspan font-weight="bold">a</tspan>) Annual mean surface ozone concentrations in 2018 for SCB</text>
<text transform="translate(723.3 529.7) scale(1.073 1)">(<tspan font-weight="bold">b</tspan>) Annual mean surface ozone concentrations in 2019 for SCB</text></g>
</svg>
</body></html>
